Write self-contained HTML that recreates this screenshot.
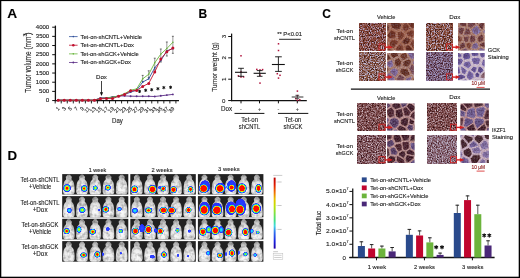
<!DOCTYPE html><html><head><meta charset="utf-8"><style>html,body{margin:0;padding:0;background:#fff;width:520px;height:278px;overflow:hidden}svg{display:block;font-family:"Liberation Sans",sans-serif;will-change:transform} text{stroke:#1c1c1c;stroke-width:0.12px}</style></head><body><svg xmlns="http://www.w3.org/2000/svg" width="520" height="278" viewBox="0 0 520 278" fill="#1c1c1c"><defs><filter id="cblur" x="0" y="0" width="1" height="1"><feGaussianBlur stdDeviation="0.55"/></filter><linearGradient id="cbar" x1="0" y1="0" x2="0" y2="1"><stop offset="0" stop-color="#b80000"/><stop offset="0.1" stop-color="#e01800"/><stop offset="0.2" stop-color="#f06800"/><stop offset="0.3" stop-color="#e8c000"/><stop offset="0.4" stop-color="#c0e000"/><stop offset="0.5" stop-color="#80e040"/><stop offset="0.6" stop-color="#40e080"/><stop offset="0.68" stop-color="#40d8e0"/><stop offset="0.77" stop-color="#3070f0"/><stop offset="0.9" stop-color="#1820e0"/><stop offset="1" stop-color="#2000a0"/></linearGradient><filter id="f10" x="0" y="0" width="1" height="1" color-interpolation-filters="sRGB"><feTurbulence type="fractalNoise" baseFrequency="0.85" numOctaves="2" seed="10"/><feColorMatrix type="matrix" values="2.2 0 0 0 -0.6 2.2 0 0 0 -0.6 2.2 0 0 0 -0.6 0 0 0 0 1"/><feComponentTransfer><feFuncR type="table" tableValues="0.23 0.33 0.42 0.5 0.55 0.59 0.63 0.67 0.74"/><feFuncG type="table" tableValues="0.09 0.14 0.19 0.24 0.31 0.39 0.49 0.6 0.68"/><feFuncB type="table" tableValues="0.07 0.1 0.14 0.19 0.27 0.38 0.56 0.69 0.78"/></feComponentTransfer><feGaussianBlur stdDeviation="0.42"/></filter><radialGradient id="cg0" cx="0.45" cy="0.45" r="0.6"><stop offset="0" stop-color="#622f22"/><stop offset="0.55" stop-color="#783a2a"/><stop offset="1" stop-color="#905d50"/></radialGradient><radialGradient id="cg1" cx="0.45" cy="0.45" r="0.6"><stop offset="0" stop-color="#552418"/><stop offset="0.55" stop-color="#682c1e"/><stop offset="1" stop-color="#835146"/></radialGradient><radialGradient id="cg2" cx="0.45" cy="0.45" r="0.6"><stop offset="0" stop-color="#481d13"/><stop offset="0.55" stop-color="#582418"/><stop offset="1" stop-color="#764b41"/></radialGradient><radialGradient id="cg3" cx="0.45" cy="0.45" r="0.6"><stop offset="0" stop-color="#715883"/><stop offset="0.55" stop-color="#8a6ca0"/><stop offset="1" stop-color="#9f86b1"/></radialGradient><filter id="f17" x="0" y="0" width="1" height="1" color-interpolation-filters="sRGB"><feTurbulence type="fractalNoise" baseFrequency="0.7" numOctaves="2" seed="17"/><feColorMatrix type="matrix" values="1.6 0 0 0 -0.3 1.6 0 0 0 -0.3 1.6 0 0 0 -0.3 0 0 0 0 1"/><feComponentTransfer><feFuncR type="table" tableValues="0.23 0.33 0.42 0.5 0.55 0.59 0.63 0.67 0.74"/><feFuncG type="table" tableValues="0.09 0.14 0.19 0.24 0.31 0.39 0.49 0.6 0.68"/><feFuncB type="table" tableValues="0.07 0.1 0.14 0.19 0.27 0.38 0.56 0.69 0.78"/></feComponentTransfer><feGaussianBlur stdDeviation="0.42"/></filter><filter id="f24" x="0" y="0" width="1" height="1" color-interpolation-filters="sRGB"><feTurbulence type="fractalNoise" baseFrequency="0.85" numOctaves="2" seed="24"/><feColorMatrix type="matrix" values="2.2 0 0 0 -0.6 2.2 0 0 0 -0.6 2.2 0 0 0 -0.6 0 0 0 0 1"/><feComponentTransfer><feFuncR type="table" tableValues="0.24 0.34 0.44 0.52 0.56 0.6 0.64 0.69 0.75"/><feFuncG type="table" tableValues="0.1 0.15 0.2 0.27 0.34 0.42 0.53 0.63 0.71"/><feFuncB type="table" tableValues="0.07 0.11 0.15 0.2 0.27 0.41 0.6 0.72 0.8"/></feComponentTransfer><feGaussianBlur stdDeviation="0.42"/></filter><radialGradient id="cg4" cx="0.45" cy="0.45" r="0.6"><stop offset="0" stop-color="#4d2227"/><stop offset="0.55" stop-color="#5e2a30"/><stop offset="1" stop-color="#7a5055"/></radialGradient><radialGradient id="cg5" cx="0.45" cy="0.45" r="0.6"><stop offset="0" stop-color="#645690"/><stop offset="0.55" stop-color="#7a6ab0"/><stop offset="1" stop-color="#9184be"/></radialGradient><radialGradient id="cg6" cx="0.45" cy="0.45" r="0.6"><stop offset="0" stop-color="#562c34"/><stop offset="0.55" stop-color="#6a3640"/><stop offset="1" stop-color="#845a62"/></radialGradient><radialGradient id="cg7" cx="0.45" cy="0.45" r="0.6"><stop offset="0" stop-color="#642d20"/><stop offset="0.55" stop-color="#7a3828"/><stop offset="1" stop-color="#915b4e"/></radialGradient><radialGradient id="cg8" cx="0.45" cy="0.45" r="0.6"><stop offset="0" stop-color="#5f3c55"/><stop offset="0.55" stop-color="#744a68"/><stop offset="1" stop-color="#8d6a83"/></radialGradient><filter id="f31" x="0" y="0" width="1" height="1" color-interpolation-filters="sRGB"><feTurbulence type="fractalNoise" baseFrequency="0.7" numOctaves="2" seed="31"/><feColorMatrix type="matrix" values="1.6 0 0 0 -0.3 1.6 0 0 0 -0.3 1.6 0 0 0 -0.3 0 0 0 0 1"/><feComponentTransfer><feFuncR type="table" tableValues="0.24 0.35 0.45 0.53 0.57 0.61 0.66 0.71 0.78"/><feFuncG type="table" tableValues="0.11 0.17 0.25 0.32 0.4 0.49 0.6 0.67 0.75"/><feFuncB type="table" tableValues="0.09 0.13 0.19 0.24 0.35 0.53 0.67 0.76 0.84"/></feComponentTransfer><feGaussianBlur stdDeviation="0.42"/></filter><filter id="f38" x="0" y="0" width="1" height="1" color-interpolation-filters="sRGB"><feTurbulence type="fractalNoise" baseFrequency="0.85" numOctaves="2" seed="38"/><feColorMatrix type="matrix" values="2.2 0 0 0 -0.6 2.2 0 0 0 -0.6 2.2 0 0 0 -0.6 0 0 0 0 1"/><feComponentTransfer><feFuncR type="table" tableValues="0.24 0.35 0.45 0.53 0.57 0.61 0.66 0.71 0.78"/><feFuncG type="table" tableValues="0.11 0.17 0.25 0.32 0.4 0.49 0.6 0.67 0.75"/><feFuncB type="table" tableValues="0.09 0.13 0.19 0.24 0.35 0.53 0.67 0.76 0.84"/></feComponentTransfer><feGaussianBlur stdDeviation="0.42"/></filter><radialGradient id="cg9" cx="0.45" cy="0.45" r="0.6"><stop offset="0" stop-color="#645590"/><stop offset="0.55" stop-color="#7a68b0"/><stop offset="1" stop-color="#9183be"/></radialGradient><radialGradient id="cg10" cx="0.45" cy="0.45" r="0.6"><stop offset="0" stop-color="#491d13"/><stop offset="0.55" stop-color="#5a2418"/><stop offset="1" stop-color="#774b41"/></radialGradient><radialGradient id="cg11" cx="0.45" cy="0.45" r="0.6"><stop offset="0" stop-color="#56251a"/><stop offset="0.55" stop-color="#6a2e20"/><stop offset="1" stop-color="#845348"/></radialGradient><radialGradient id="cg12" cx="0.45" cy="0.45" r="0.6"><stop offset="0" stop-color="#673224"/><stop offset="0.55" stop-color="#7e3e2c"/><stop offset="1" stop-color="#956051"/></radialGradient><radialGradient id="cg13" cx="0.45" cy="0.45" r="0.6"><stop offset="0" stop-color="#5f3949"/><stop offset="0.55" stop-color="#74465a"/><stop offset="1" stop-color="#8d6777"/></radialGradient><filter id="f45" x="0" y="0" width="1" height="1" color-interpolation-filters="sRGB"><feTurbulence type="fractalNoise" baseFrequency="0.7" numOctaves="2" seed="45"/><feColorMatrix type="matrix" values="1.6 0 0 0 -0.3 1.6 0 0 0 -0.3 1.6 0 0 0 -0.3 0 0 0 0 1"/><feComponentTransfer><feFuncR type="table" tableValues="0.24 0.35 0.45 0.53 0.57 0.61 0.66 0.71 0.78"/><feFuncG type="table" tableValues="0.11 0.17 0.25 0.32 0.4 0.49 0.6 0.67 0.75"/><feFuncB type="table" tableValues="0.09 0.13 0.19 0.24 0.35 0.53 0.67 0.76 0.84"/></feComponentTransfer><feGaussianBlur stdDeviation="0.42"/></filter><filter id="f52" x="0" y="0" width="1" height="1" color-interpolation-filters="sRGB"><feTurbulence type="fractalNoise" baseFrequency="0.85" numOctaves="2" seed="52"/><feColorMatrix type="matrix" values="2.2 0 0 0 -0.6 2.2 0 0 0 -0.6 2.2 0 0 0 -0.6 0 0 0 0 1"/><feComponentTransfer><feFuncR type="table" tableValues="0.23 0.31 0.38 0.44 0.48 0.52 0.56 0.62 0.7"/><feFuncG type="table" tableValues="0.1 0.16 0.23 0.31 0.38 0.44 0.5 0.57 0.65"/><feFuncB type="table" tableValues="0.16 0.22 0.3 0.38 0.48 0.58 0.66 0.72 0.79"/></feComponentTransfer><feGaussianBlur stdDeviation="0.42"/></filter><radialGradient id="cg14" cx="0.45" cy="0.45" r="0.6"><stop offset="0" stop-color="#4b3e7f"/><stop offset="0.55" stop-color="#5c4c9c"/><stop offset="1" stop-color="#796cad"/></radialGradient><radialGradient id="cg15" cx="0.45" cy="0.45" r="0.6"><stop offset="0" stop-color="#625593"/><stop offset="0.55" stop-color="#7868b4"/><stop offset="1" stop-color="#9083c1"/></radialGradient><radialGradient id="cg16" cx="0.45" cy="0.45" r="0.6"><stop offset="0" stop-color="#79565b"/><stop offset="0.55" stop-color="#946a70"/><stop offset="1" stop-color="#a78489"/></radialGradient><radialGradient id="cg17" cx="0.45" cy="0.45" r="0.6"><stop offset="0" stop-color="#564989"/><stop offset="0.55" stop-color="#6a5aa8"/><stop offset="1" stop-color="#8477b7"/></radialGradient><filter id="f59" x="0" y="0" width="1" height="1" color-interpolation-filters="sRGB"><feTurbulence type="fractalNoise" baseFrequency="0.7" numOctaves="2" seed="59"/><feColorMatrix type="matrix" values="1.6 0 0 0 -0.3 1.6 0 0 0 -0.3 1.6 0 0 0 -0.3 0 0 0 0 1"/><feComponentTransfer><feFuncR type="table" tableValues="0.23 0.31 0.38 0.44 0.48 0.52 0.56 0.62 0.7"/><feFuncG type="table" tableValues="0.1 0.16 0.23 0.31 0.38 0.44 0.5 0.57 0.65"/><feFuncB type="table" tableValues="0.16 0.22 0.3 0.38 0.48 0.58 0.66 0.72 0.79"/></feComponentTransfer><feGaussianBlur stdDeviation="0.42"/></filter><filter id="f66" x="0" y="0" width="1" height="1" color-interpolation-filters="sRGB"><feTurbulence type="fractalNoise" baseFrequency="0.8" numOctaves="2" seed="66"/><feColorMatrix type="matrix" values="1.7 0 0 0 -0.35 1.7 0 0 0 -0.35 1.7 0 0 0 -0.35 0 0 0 0 1"/><feComponentTransfer><feFuncR type="table" tableValues="0.16 0.25 0.35 0.43 0.5 0.58 0.66 0.74 0.83"/><feFuncG type="table" tableValues="0.05 0.1 0.16 0.23 0.31 0.42 0.53 0.64 0.75"/><feFuncB type="table" tableValues="0.06 0.11 0.16 0.24 0.31 0.44 0.56 0.67 0.78"/></feComponentTransfer><feGaussianBlur stdDeviation="0.42"/></filter><radialGradient id="cg18" cx="0.45" cy="0.45" r="0.6"><stop offset="0" stop-color="#2c0e12"/><stop offset="0.55" stop-color="#361216"/><stop offset="1" stop-color="#5a3c3f"/></radialGradient><radialGradient id="cg19" cx="0.45" cy="0.45" r="0.6"><stop offset="0" stop-color="#412d50"/><stop offset="0.55" stop-color="#503862"/><stop offset="1" stop-color="#6f5b7e"/></radialGradient><radialGradient id="cg20" cx="0.45" cy="0.45" r="0.6"><stop offset="0" stop-color="#4d3f6f"/><stop offset="0.55" stop-color="#5e4e88"/><stop offset="1" stop-color="#7a6d9d"/></radialGradient><radialGradient id="cg21" cx="0.45" cy="0.45" r="0.6"><stop offset="0" stop-color="#37151a"/><stop offset="0.55" stop-color="#441a20"/><stop offset="1" stop-color="#654348"/></radialGradient><filter id="f73" x="0" y="0" width="1" height="1" color-interpolation-filters="sRGB"><feTurbulence type="fractalNoise" baseFrequency="0.7" numOctaves="2" seed="73"/><feColorMatrix type="matrix" values="1.6 0 0 0 -0.3 1.6 0 0 0 -0.3 1.6 0 0 0 -0.3 0 0 0 0 1"/><feComponentTransfer><feFuncR type="table" tableValues="0.19 0.27 0.35 0.44 0.53 0.63 0.72 0.82 0.93"/><feFuncG type="table" tableValues="0.08 0.13 0.19 0.31 0.42 0.54 0.64 0.75 0.87"/><feFuncB type="table" tableValues="0.09 0.16 0.25 0.44 0.56 0.66 0.72 0.8 0.89"/></feComponentTransfer><feGaussianBlur stdDeviation="0.42"/></filter><filter id="f80" x="0" y="0" width="1" height="1" color-interpolation-filters="sRGB"><feTurbulence type="fractalNoise" baseFrequency="0.8" numOctaves="2" seed="80"/><feColorMatrix type="matrix" values="1.7 0 0 0 -0.35 1.7 0 0 0 -0.35 1.7 0 0 0 -0.35 0 0 0 0 1"/><feComponentTransfer><feFuncR type="table" tableValues="0.16 0.25 0.35 0.43 0.5 0.58 0.66 0.74 0.83"/><feFuncG type="table" tableValues="0.05 0.1 0.16 0.23 0.31 0.42 0.53 0.64 0.75"/><feFuncB type="table" tableValues="0.06 0.11 0.16 0.24 0.31 0.44 0.56 0.67 0.78"/></feComponentTransfer><feGaussianBlur stdDeviation="0.42"/></filter><radialGradient id="cg22" cx="0.45" cy="0.45" r="0.6"><stop offset="0" stop-color="#584b7c"/><stop offset="0.55" stop-color="#6c5c98"/><stop offset="1" stop-color="#8679aa"/></radialGradient><filter id="f87" x="0" y="0" width="1" height="1" color-interpolation-filters="sRGB"><feTurbulence type="fractalNoise" baseFrequency="0.7" numOctaves="2" seed="87"/><feColorMatrix type="matrix" values="1.6 0 0 0 -0.3 1.6 0 0 0 -0.3 1.6 0 0 0 -0.3 0 0 0 0 1"/><feComponentTransfer><feFuncR type="table" tableValues="0.19 0.27 0.35 0.44 0.53 0.63 0.72 0.82 0.93"/><feFuncG type="table" tableValues="0.08 0.13 0.19 0.31 0.42 0.54 0.64 0.75 0.87"/><feFuncB type="table" tableValues="0.09 0.16 0.25 0.44 0.56 0.66 0.72 0.8 0.89"/></feComponentTransfer><feGaussianBlur stdDeviation="0.42"/></filter><filter id="f94" x="0" y="0" width="1" height="1" color-interpolation-filters="sRGB"><feTurbulence type="fractalNoise" baseFrequency="0.8" numOctaves="2" seed="94"/><feColorMatrix type="matrix" values="1.7 0 0 0 -0.35 1.7 0 0 0 -0.35 1.7 0 0 0 -0.35 0 0 0 0 1"/><feComponentTransfer><feFuncR type="table" tableValues="0.17 0.26 0.35 0.44 0.51 0.59 0.67 0.75 0.84"/><feFuncG type="table" tableValues="0.06 0.11 0.17 0.25 0.35 0.45 0.56 0.66 0.78"/><feFuncB type="table" tableValues="0.08 0.13 0.2 0.27 0.37 0.49 0.6 0.71 0.82"/></feComponentTransfer><feGaussianBlur stdDeviation="0.42"/></filter><filter id="f101" x="0" y="0" width="1" height="1" color-interpolation-filters="sRGB"><feTurbulence type="fractalNoise" baseFrequency="0.7" numOctaves="2" seed="101"/><feColorMatrix type="matrix" values="1.6 0 0 0 -0.3 1.6 0 0 0 -0.3 1.6 0 0 0 -0.3 0 0 0 0 1"/><feComponentTransfer><feFuncR type="table" tableValues="0.19 0.27 0.35 0.44 0.53 0.63 0.72 0.82 0.93"/><feFuncG type="table" tableValues="0.08 0.13 0.19 0.31 0.42 0.54 0.64 0.75 0.87"/><feFuncB type="table" tableValues="0.09 0.16 0.25 0.44 0.56 0.66 0.72 0.8 0.89"/></feComponentTransfer><feGaussianBlur stdDeviation="0.42"/></filter><filter id="f108" x="0" y="0" width="1" height="1" color-interpolation-filters="sRGB"><feTurbulence type="fractalNoise" baseFrequency="0.8" numOctaves="2" seed="108"/><feColorMatrix type="matrix" values="1.7 0 0 0 -0.35 1.7 0 0 0 -0.35 1.7 0 0 0 -0.35 0 0 0 0 1"/><feComponentTransfer><feFuncR type="table" tableValues="0.23 0.31 0.41 0.49 0.55 0.61 0.67 0.74 0.82"/><feFuncG type="table" tableValues="0.1 0.16 0.25 0.34 0.42 0.52 0.61 0.69 0.78"/><feFuncB type="table" tableValues="0.13 0.2 0.28 0.38 0.49 0.59 0.68 0.76 0.85"/></feComponentTransfer><feGaussianBlur stdDeviation="0.42"/></filter><radialGradient id="cg23" cx="0.45" cy="0.45" r="0.6"><stop offset="0" stop-color="#96839a"/><stop offset="0.55" stop-color="#b8a0bc"/><stop offset="1" stop-color="#c4b1c8"/></radialGradient><radialGradient id="cg24" cx="0.45" cy="0.45" r="0.6"><stop offset="0" stop-color="#6d6090"/><stop offset="0.55" stop-color="#8676b0"/><stop offset="1" stop-color="#9b8ebe"/></radialGradient><radialGradient id="cg25" cx="0.45" cy="0.45" r="0.6"><stop offset="0" stop-color="#5b4e83"/><stop offset="0.55" stop-color="#7060a0"/><stop offset="1" stop-color="#897cb1"/></radialGradient><radialGradient id="cg26" cx="0.45" cy="0.45" r="0.6"><stop offset="0" stop-color="#2c1013"/><stop offset="0.55" stop-color="#361418"/><stop offset="1" stop-color="#5a3e41"/></radialGradient><filter id="f115" x="0" y="0" width="1" height="1" color-interpolation-filters="sRGB"><feTurbulence type="fractalNoise" baseFrequency="0.7" numOctaves="2" seed="115"/><feColorMatrix type="matrix" values="1.6 0 0 0 -0.3 1.6 0 0 0 -0.3 1.6 0 0 0 -0.3 0 0 0 0 1"/><feComponentTransfer><feFuncR type="table" tableValues="0.19 0.27 0.35 0.44 0.53 0.63 0.72 0.82 0.93"/><feFuncG type="table" tableValues="0.08 0.13 0.19 0.31 0.42 0.54 0.64 0.75 0.87"/><feFuncB type="table" tableValues="0.09 0.16 0.25 0.44 0.56 0.66 0.72 0.8 0.89"/></feComponentTransfer><feGaussianBlur stdDeviation="0.42"/></filter><radialGradient id="mg" cx="0.5" cy="0.74" r="0.72"><stop offset="0" stop-color="#fcfcfc"/><stop offset="0.45" stop-color="#ececec"/><stop offset="0.75" stop-color="#cfcfcf"/><stop offset="1" stop-color="#9a9a9a"/></radialGradient><filter id="mb" x="-0.05" y="-0.05" width="1.1" height="1.1" color-interpolation-filters="sRGB"><feTurbulence type="fractalNoise" baseFrequency="0.28" numOctaves="2" seed="11" result="n"/><feColorMatrix in="n" type="matrix" values="0.7 0 0 0 0.58 0.7 0 0 0 0.58 0.7 0 0 0 0.58 0 0 0 0 1" result="g"/><feComposite in="SourceGraphic" in2="g" operator="arithmetic" k1="1" k2="0" k3="0" k4="0" result="m"/><feGaussianBlur in="m" stdDeviation="0.4"/></filter><filter id="bb" x="-0.3" y="-0.3" width="1.6" height="1.6"><feGaussianBlur stdDeviation="0.3"/></filter><path id="mouse" d="M0,0.2 C1.2,0.2 1.8,0.9 2.0,1.8 C2.6,2.0 3.0,2.6 2.8,3.4 C2.6,4.2 2.4,4.8 2.6,5.4 C3.5,6.2 4.4,7.2 4.8,9.0 C5.3,11.5 5.5,14.5 5.5,17.0 C5.4,19.0 4.8,20.2 3.4,20.4 L-3.4,20.4 C-4.8,20.2 -5.4,19.0 -5.5,17.0 C-5.5,14.5 -5.3,11.5 -4.8,9.0 C-4.4,7.2 -3.5,6.2 -2.6,5.4 C-2.4,4.8 -2.6,4.2 -2.8,3.4 C-3.0,2.6 -2.6,2.0 -2.0,1.8 C-1.8,0.9 -1.2,0.2 0,0.2 Z" fill="url(#mg)"/><radialGradient id="bl330"><stop offset="0" stop-color="#ff1000"/><stop offset="0.28" stop-color="#ff1000"/><stop offset="0.35" stop-color="#ff9000"/><stop offset="0.45" stop-color="#f8f400"/><stop offset="0.58" stop-color="#50f040"/><stop offset="0.69" stop-color="#10e0f8"/><stop offset="0.78" stop-color="#2438ff"/><stop offset="0.94" stop-color="#2438ff"/><stop offset="1" stop-color="#2438ff" stop-opacity="0"/></radialGradient><radialGradient id="bl325"><stop offset="0" stop-color="#ff1000"/><stop offset="0.23" stop-color="#ff1000"/><stop offset="0.31" stop-color="#ff9000"/><stop offset="0.41" stop-color="#f8f400"/><stop offset="0.55" stop-color="#50f040"/><stop offset="0.67" stop-color="#10e0f8"/><stop offset="0.77" stop-color="#2438ff"/><stop offset="0.94" stop-color="#2438ff"/><stop offset="1" stop-color="#2438ff" stop-opacity="0"/></radialGradient><radialGradient id="bl50"><stop offset="0" stop-color="#ff5000"/><stop offset="0.14" stop-color="#f8f400"/><stop offset="0.4" stop-color="#50f040"/><stop offset="0.62" stop-color="#10e0f8"/><stop offset="0.78" stop-color="#2438ff"/><stop offset="0.94" stop-color="#2438ff"/><stop offset="1" stop-color="#2438ff" stop-opacity="0"/></radialGradient><radialGradient id="bl320"><stop offset="0" stop-color="#ff1000"/><stop offset="0.19" stop-color="#ff1000"/><stop offset="0.26" stop-color="#ff9000"/><stop offset="0.38" stop-color="#f8f400"/><stop offset="0.53" stop-color="#50f040"/><stop offset="0.65" stop-color="#10e0f8"/><stop offset="0.76" stop-color="#2438ff"/><stop offset="0.94" stop-color="#2438ff"/><stop offset="1" stop-color="#2438ff" stop-opacity="0"/></radialGradient><radialGradient id="bl345"><stop offset="0" stop-color="#ff1000"/><stop offset="0.42" stop-color="#ff1000"/><stop offset="0.47" stop-color="#ff9000"/><stop offset="0.55" stop-color="#f8f400"/><stop offset="0.66" stop-color="#50f040"/><stop offset="0.74" stop-color="#10e0f8"/><stop offset="0.82" stop-color="#2438ff"/><stop offset="0.94" stop-color="#2438ff"/><stop offset="1" stop-color="#2438ff" stop-opacity="0"/></radialGradient><radialGradient id="bl360"><stop offset="0" stop-color="#ff1000"/><stop offset="0.56" stop-color="#ff1000"/><stop offset="0.6" stop-color="#ff9000"/><stop offset="0.66" stop-color="#f8f400"/><stop offset="0.73" stop-color="#50f040"/><stop offset="0.8" stop-color="#10e0f8"/><stop offset="0.85" stop-color="#2438ff"/><stop offset="0.94" stop-color="#2438ff"/><stop offset="1" stop-color="#2438ff" stop-opacity="0"/></radialGradient><radialGradient id="bl200"><stop offset="0" stop-color="#3050ff"/><stop offset="0.6" stop-color="#2438ff"/><stop offset="0.94" stop-color="#2830f8"/><stop offset="1" stop-color="#2438ff" stop-opacity="0"/></radialGradient><radialGradient id="bl355"><stop offset="0" stop-color="#ff1000"/><stop offset="0.52" stop-color="#ff1000"/><stop offset="0.56" stop-color="#ff9000"/><stop offset="0.62" stop-color="#f8f400"/><stop offset="0.71" stop-color="#50f040"/><stop offset="0.78" stop-color="#10e0f8"/><stop offset="0.84" stop-color="#2438ff"/><stop offset="0.94" stop-color="#2438ff"/><stop offset="1" stop-color="#2438ff" stop-opacity="0"/></radialGradient><radialGradient id="bl340"><stop offset="0" stop-color="#ff1000"/><stop offset="0.38" stop-color="#ff1000"/><stop offset="0.43" stop-color="#ff9000"/><stop offset="0.52" stop-color="#f8f400"/><stop offset="0.63" stop-color="#50f040"/><stop offset="0.73" stop-color="#10e0f8"/><stop offset="0.8" stop-color="#2438ff"/><stop offset="0.94" stop-color="#2438ff"/><stop offset="1" stop-color="#2438ff" stop-opacity="0"/></radialGradient><radialGradient id="bl366"><stop offset="0" stop-color="#ff1000"/><stop offset="0.62" stop-color="#ff1000"/><stop offset="0.65" stop-color="#ff9000"/><stop offset="0.7" stop-color="#f8f400"/><stop offset="0.76" stop-color="#50f040"/><stop offset="0.82" stop-color="#10e0f8"/><stop offset="0.86" stop-color="#2438ff"/><stop offset="0.94" stop-color="#2438ff"/><stop offset="1" stop-color="#2438ff" stop-opacity="0"/></radialGradient><radialGradient id="bl364"><stop offset="0" stop-color="#ff1000"/><stop offset="0.6" stop-color="#ff1000"/><stop offset="0.64" stop-color="#ff9000"/><stop offset="0.69" stop-color="#f8f400"/><stop offset="0.75" stop-color="#50f040"/><stop offset="0.81" stop-color="#10e0f8"/><stop offset="0.86" stop-color="#2438ff"/><stop offset="0.94" stop-color="#2438ff"/><stop offset="1" stop-color="#2438ff" stop-opacity="0"/></radialGradient><radialGradient id="bl150"><stop offset="0" stop-color="#40f0c0"/><stop offset="0.28" stop-color="#10e0f8"/><stop offset="0.55" stop-color="#2090ff"/><stop offset="0.75" stop-color="#2438ff"/><stop offset="0.94" stop-color="#2438ff"/><stop offset="1" stop-color="#2438ff" stop-opacity="0"/></radialGradient><radialGradient id="bl350"><stop offset="0" stop-color="#ff1000"/><stop offset="0.47" stop-color="#ff1000"/><stop offset="0.52" stop-color="#ff9000"/><stop offset="0.59" stop-color="#f8f400"/><stop offset="0.68" stop-color="#50f040"/><stop offset="0.76" stop-color="#10e0f8"/><stop offset="0.83" stop-color="#2438ff"/><stop offset="0.94" stop-color="#2438ff"/><stop offset="1" stop-color="#2438ff" stop-opacity="0"/></radialGradient><radialGradient id="bl335"><stop offset="0" stop-color="#ff1000"/><stop offset="0.33" stop-color="#ff1000"/><stop offset="0.39" stop-color="#ff9000"/><stop offset="0.48" stop-color="#f8f400"/><stop offset="0.6" stop-color="#50f040"/><stop offset="0.71" stop-color="#10e0f8"/><stop offset="0.79" stop-color="#2438ff"/><stop offset="0.94" stop-color="#2438ff"/><stop offset="1" stop-color="#2438ff" stop-opacity="0"/></radialGradient><radialGradient id="bl368"><stop offset="0" stop-color="#ff1000"/><stop offset="0.64" stop-color="#ff1000"/><stop offset="0.67" stop-color="#ff9000"/><stop offset="0.71" stop-color="#f8f400"/><stop offset="0.77" stop-color="#50f040"/><stop offset="0.83" stop-color="#10e0f8"/><stop offset="0.87" stop-color="#2438ff"/><stop offset="0.94" stop-color="#2438ff"/><stop offset="1" stop-color="#2438ff" stop-opacity="0"/></radialGradient><radialGradient id="bl362"><stop offset="0" stop-color="#ff1000"/><stop offset="0.58" stop-color="#ff1000"/><stop offset="0.62" stop-color="#ff9000"/><stop offset="0.67" stop-color="#f8f400"/><stop offset="0.74" stop-color="#50f040"/><stop offset="0.8" stop-color="#10e0f8"/><stop offset="0.85" stop-color="#2438ff"/><stop offset="0.94" stop-color="#2438ff"/><stop offset="1" stop-color="#2438ff" stop-opacity="0"/></radialGradient><radialGradient id="bl100"><stop offset="0" stop-color="#f8f400"/><stop offset="0.3" stop-color="#50f040"/><stop offset="0.55" stop-color="#10e0f8"/><stop offset="0.75" stop-color="#2438ff"/><stop offset="0.94" stop-color="#2438ff"/><stop offset="1" stop-color="#2438ff" stop-opacity="0"/></radialGradient></defs>
<text x="7.3" y="17.7" font-size="12" font-weight="bold" fill="#000" stroke="#000" textLength="9.9" lengthAdjust="spacingAndGlyphs">A</text>
<text x="198.4" y="18" font-size="12" font-weight="bold" fill="#000" stroke="#000">B</text>
<text x="322.3" y="18" font-size="12" font-weight="bold" fill="#000" stroke="#000">C</text>
<text x="7.6" y="159.9" font-size="12" font-weight="bold" fill="#000" stroke="#000" textLength="9.6" lengthAdjust="spacingAndGlyphs">D</text>
<line x1="55.4" y1="25.6" x2="55.4" y2="101.15" stroke="#111" stroke-width="1.3"/>
<line x1="54.8" y1="100.55" x2="179" y2="100.55" stroke="#111" stroke-width="1.3"/>
<line x1="52.2" y1="100.55" x2="55.4" y2="100.55" stroke="#111" stroke-width="1"/>
<text x="49.2" y="102.3" font-size="5.09" text-anchor="end" textLength="3.5" lengthAdjust="spacingAndGlyphs">0</text>
<line x1="52.2" y1="91.38" x2="55.4" y2="91.38" stroke="#111" stroke-width="1"/>
<text x="49.2" y="93.13" font-size="5.09" text-anchor="end" textLength="10.1" lengthAdjust="spacingAndGlyphs">500</text>
<line x1="52.2" y1="82.21" x2="55.4" y2="82.21" stroke="#111" stroke-width="1"/>
<text x="49.2" y="83.96" font-size="5.09" text-anchor="end" textLength="13.4" lengthAdjust="spacingAndGlyphs">1000</text>
<line x1="52.2" y1="73.04" x2="55.4" y2="73.04" stroke="#111" stroke-width="1"/>
<text x="49.2" y="74.79" font-size="5.09" text-anchor="end" textLength="13.4" lengthAdjust="spacingAndGlyphs">1500</text>
<line x1="52.2" y1="63.87" x2="55.4" y2="63.87" stroke="#111" stroke-width="1"/>
<text x="49.2" y="65.62" font-size="5.09" text-anchor="end" textLength="13.4" lengthAdjust="spacingAndGlyphs">2000</text>
<line x1="52.2" y1="54.7" x2="55.4" y2="54.7" stroke="#111" stroke-width="1"/>
<text x="49.2" y="56.45" font-size="5.09" text-anchor="end" textLength="13.4" lengthAdjust="spacingAndGlyphs">2500</text>
<line x1="52.2" y1="45.53" x2="55.4" y2="45.53" stroke="#111" stroke-width="1"/>
<text x="49.2" y="47.28" font-size="5.09" text-anchor="end" textLength="13.4" lengthAdjust="spacingAndGlyphs">3000</text>
<line x1="52.2" y1="36.36" x2="55.4" y2="36.36" stroke="#111" stroke-width="1"/>
<text x="49.2" y="38.11" font-size="5.09" text-anchor="end" textLength="13.4" lengthAdjust="spacingAndGlyphs">3500</text>
<line x1="52.2" y1="27.19" x2="55.4" y2="27.19" stroke="#111" stroke-width="1"/>
<text x="49.2" y="28.94" font-size="5.09" text-anchor="end" textLength="13.4" lengthAdjust="spacingAndGlyphs">4000</text>
<line x1="55.2" y1="100.55" x2="55.2" y2="103.45" stroke="#111" stroke-width="0.9"/>
<line x1="61.23" y1="100.55" x2="61.23" y2="103.45" stroke="#111" stroke-width="0.9"/>
<line x1="67.27" y1="100.55" x2="67.27" y2="103.45" stroke="#111" stroke-width="0.9"/>
<line x1="73.31" y1="100.55" x2="73.31" y2="103.45" stroke="#111" stroke-width="0.9"/>
<line x1="79.34" y1="100.55" x2="79.34" y2="103.45" stroke="#111" stroke-width="0.9"/>
<line x1="85.38" y1="100.55" x2="85.38" y2="103.45" stroke="#111" stroke-width="0.9"/>
<line x1="91.41" y1="100.55" x2="91.41" y2="103.45" stroke="#111" stroke-width="0.9"/>
<line x1="97.45" y1="100.55" x2="97.45" y2="103.45" stroke="#111" stroke-width="0.9"/>
<line x1="103.48" y1="100.55" x2="103.48" y2="103.45" stroke="#111" stroke-width="0.9"/>
<line x1="109.52" y1="100.55" x2="109.52" y2="103.45" stroke="#111" stroke-width="0.9"/>
<line x1="115.55" y1="100.55" x2="115.55" y2="103.45" stroke="#111" stroke-width="0.9"/>
<line x1="121.59" y1="100.55" x2="121.59" y2="103.45" stroke="#111" stroke-width="0.9"/>
<line x1="127.62" y1="100.55" x2="127.62" y2="103.45" stroke="#111" stroke-width="0.9"/>
<line x1="133.66" y1="100.55" x2="133.66" y2="103.45" stroke="#111" stroke-width="0.9"/>
<line x1="139.69" y1="100.55" x2="139.69" y2="103.45" stroke="#111" stroke-width="0.9"/>
<line x1="145.73" y1="100.55" x2="145.73" y2="103.45" stroke="#111" stroke-width="0.9"/>
<line x1="151.76" y1="100.55" x2="151.76" y2="103.45" stroke="#111" stroke-width="0.9"/>
<line x1="157.8" y1="100.55" x2="157.8" y2="103.45" stroke="#111" stroke-width="0.9"/>
<line x1="163.83" y1="100.55" x2="163.83" y2="103.45" stroke="#111" stroke-width="0.9"/>
<line x1="169.87" y1="100.55" x2="169.87" y2="103.45" stroke="#111" stroke-width="0.9"/>
<line x1="175.9" y1="100.55" x2="175.9" y2="103.45" stroke="#111" stroke-width="0.9"/>
<text transform="translate(60.2 109) rotate(-45)" font-size="5.3" text-anchor="end" stroke-width="0.3">1</text>
<text transform="translate(66.23 109) rotate(-45)" font-size="5.3" text-anchor="end" stroke-width="0.3">3</text>
<text transform="translate(72.27 109) rotate(-45)" font-size="5.3" text-anchor="end" stroke-width="0.3">5</text>
<text transform="translate(78.31 109) rotate(-45)" font-size="5.3" text-anchor="end" stroke-width="0.3">7</text>
<text transform="translate(84.34 109) rotate(-45)" font-size="5.3" text-anchor="end" stroke-width="0.3">9</text>
<text transform="translate(90.38 109) rotate(-45)" font-size="5.3" text-anchor="end" stroke-width="0.3">11</text>
<text transform="translate(96.41 109) rotate(-45)" font-size="5.3" text-anchor="end" stroke-width="0.3">13</text>
<text transform="translate(102.45 109) rotate(-45)" font-size="5.3" text-anchor="end" stroke-width="0.3">15</text>
<text transform="translate(108.48 109) rotate(-45)" font-size="5.3" text-anchor="end" stroke-width="0.3">17</text>
<text transform="translate(114.52 109) rotate(-45)" font-size="5.3" text-anchor="end" stroke-width="0.3">19</text>
<text transform="translate(120.55 109) rotate(-45)" font-size="5.3" text-anchor="end" stroke-width="0.3">21</text>
<text transform="translate(126.59 109) rotate(-45)" font-size="5.3" text-anchor="end" stroke-width="0.3">23</text>
<text transform="translate(132.62 109) rotate(-45)" font-size="5.3" text-anchor="end" stroke-width="0.3">25</text>
<text transform="translate(138.66 109) rotate(-45)" font-size="5.3" text-anchor="end" stroke-width="0.3">27</text>
<text transform="translate(144.69 109) rotate(-45)" font-size="5.3" text-anchor="end" stroke-width="0.3">29</text>
<text transform="translate(150.73 109) rotate(-45)" font-size="5.3" text-anchor="end" stroke-width="0.3">31</text>
<text transform="translate(156.76 109) rotate(-45)" font-size="5.3" text-anchor="end" stroke-width="0.3">33</text>
<text transform="translate(162.8 109) rotate(-45)" font-size="5.3" text-anchor="end" stroke-width="0.3">35</text>
<text transform="translate(168.83 109) rotate(-45)" font-size="5.3" text-anchor="end" stroke-width="0.3">37</text>
<text transform="translate(174.87 109) rotate(-45)" font-size="5.3" text-anchor="end" stroke-width="0.3">39</text>
<text transform="translate(30.8 92.8) rotate(-90)" font-size="9.12" textLength="56.2" lengthAdjust="spacingAndGlyphs">Tumor volume (mm</text>
<text transform="translate(27 36.6) rotate(-90)" font-size="5.51">3</text>
<text transform="translate(30.8 35) rotate(-90)" font-size="9.12" textLength="2.6" lengthAdjust="spacingAndGlyphs">)</text>
<text x="112" y="122.6" font-size="7.21" textLength="10.8" lengthAdjust="spacingAndGlyphs">Day</text>
<line x1="142.69" y1="75.4" x2="142.69" y2="81.5" stroke="#555" stroke-width="0.6"/>
<line x1="141.74" y1="75.4" x2="143.64" y2="75.4" stroke="#333" stroke-width="0.7"/>
<line x1="141.74" y1="81.5" x2="143.64" y2="81.5" stroke="#333" stroke-width="0.7"/>
<line x1="148.73" y1="70.8" x2="148.73" y2="77.5" stroke="#555" stroke-width="0.6"/>
<line x1="147.78" y1="70.8" x2="149.68" y2="70.8" stroke="#333" stroke-width="0.7"/>
<line x1="147.78" y1="77.5" x2="149.68" y2="77.5" stroke="#333" stroke-width="0.7"/>
<line x1="154.76" y1="58.2" x2="154.76" y2="70" stroke="#555" stroke-width="0.6"/>
<line x1="153.81" y1="58.2" x2="155.71" y2="58.2" stroke="#333" stroke-width="0.7"/>
<line x1="153.81" y1="70" x2="155.71" y2="70" stroke="#333" stroke-width="0.7"/>
<line x1="160.8" y1="49" x2="160.8" y2="62" stroke="#555" stroke-width="0.6"/>
<line x1="159.85" y1="49" x2="161.75" y2="49" stroke="#333" stroke-width="0.7"/>
<line x1="159.85" y1="62" x2="161.75" y2="62" stroke="#333" stroke-width="0.7"/>
<line x1="166.83" y1="42" x2="166.83" y2="56" stroke="#555" stroke-width="0.6"/>
<line x1="165.88" y1="42" x2="167.78" y2="42" stroke="#333" stroke-width="0.7"/>
<line x1="165.88" y1="56" x2="167.78" y2="56" stroke="#333" stroke-width="0.7"/>
<line x1="172.87" y1="36.3" x2="172.87" y2="53.3" stroke="#555" stroke-width="0.6"/>
<line x1="171.92" y1="36.3" x2="173.81" y2="36.3" stroke="#333" stroke-width="0.7"/>
<line x1="171.92" y1="53.3" x2="173.81" y2="53.3" stroke="#333" stroke-width="0.7"/>
<polyline points="58.2,100.2 64.23,100.2 70.27,100.2 76.31,100.2 82.34,100.2 88.38,100.2 94.41,100.2 100.45,97.9 106.48,97.9 112.52,97 118.55,96 124.59,95.9 130.62,96.2 136.66,96.3 142.69,96.3 148.73,96.3 154.76,96.5 160.8,95.8 166.83,95.1 172.87,94.4" fill="none" stroke="#5a2d86" stroke-width="0.9"/>
<circle cx="58.2" cy="100.2" r="0.95" fill="#5a2d86"/>
<circle cx="64.23" cy="100.2" r="0.95" fill="#5a2d86"/>
<circle cx="70.27" cy="100.2" r="0.95" fill="#5a2d86"/>
<circle cx="76.31" cy="100.2" r="0.95" fill="#5a2d86"/>
<circle cx="82.34" cy="100.2" r="0.95" fill="#5a2d86"/>
<circle cx="88.38" cy="100.2" r="0.95" fill="#5a2d86"/>
<circle cx="94.41" cy="100.2" r="0.95" fill="#5a2d86"/>
<circle cx="100.45" cy="97.9" r="0.95" fill="#5a2d86"/>
<circle cx="106.48" cy="97.9" r="0.95" fill="#5a2d86"/>
<circle cx="112.52" cy="97" r="0.95" fill="#5a2d86"/>
<circle cx="118.55" cy="96" r="0.95" fill="#5a2d86"/>
<circle cx="124.59" cy="95.9" r="0.95" fill="#5a2d86"/>
<circle cx="130.62" cy="96.2" r="0.95" fill="#5a2d86"/>
<circle cx="136.66" cy="96.3" r="0.95" fill="#5a2d86"/>
<circle cx="142.69" cy="96.3" r="0.95" fill="#5a2d86"/>
<circle cx="148.73" cy="96.3" r="0.95" fill="#5a2d86"/>
<circle cx="154.76" cy="96.5" r="0.95" fill="#5a2d86"/>
<circle cx="160.8" cy="95.8" r="0.95" fill="#5a2d86"/>
<circle cx="166.83" cy="95.1" r="0.95" fill="#5a2d86"/>
<circle cx="172.87" cy="94.4" r="0.95" fill="#5a2d86"/>
<polyline points="58.2,100.2 64.23,100.2 70.27,100.2 76.31,100.2 82.34,100.2 88.38,100.2 94.41,100.2 100.45,98.3 106.48,98 112.52,97.2 118.55,96.3 124.59,94.4 130.62,92.2 136.66,90.2 142.69,82.1 148.73,78.8 154.76,67.8 160.8,60.6 166.83,50.9 172.87,48.5" fill="none" stroke="#2e4f9a" stroke-width="0.9"/>
<circle cx="58.2" cy="100.2" r="0.9" fill="#2e4f9a"/>
<circle cx="64.23" cy="100.2" r="0.9" fill="#2e4f9a"/>
<circle cx="70.27" cy="100.2" r="0.9" fill="#2e4f9a"/>
<circle cx="76.31" cy="100.2" r="0.9" fill="#2e4f9a"/>
<circle cx="82.34" cy="100.2" r="0.9" fill="#2e4f9a"/>
<circle cx="88.38" cy="100.2" r="0.9" fill="#2e4f9a"/>
<circle cx="94.41" cy="100.2" r="0.9" fill="#2e4f9a"/>
<circle cx="100.45" cy="98.3" r="0.9" fill="#2e4f9a"/>
<circle cx="106.48" cy="98" r="0.9" fill="#2e4f9a"/>
<circle cx="112.52" cy="97.2" r="0.9" fill="#2e4f9a"/>
<circle cx="118.55" cy="96.3" r="0.9" fill="#2e4f9a"/>
<circle cx="124.59" cy="94.4" r="0.9" fill="#2e4f9a"/>
<circle cx="130.62" cy="92.2" r="0.9" fill="#2e4f9a"/>
<circle cx="136.66" cy="90.2" r="0.9" fill="#2e4f9a"/>
<circle cx="142.69" cy="82.1" r="0.9" fill="#2e4f9a"/>
<circle cx="148.73" cy="78.8" r="0.9" fill="#2e4f9a"/>
<circle cx="154.76" cy="67.8" r="0.9" fill="#2e4f9a"/>
<circle cx="160.8" cy="60.6" r="0.9" fill="#2e4f9a"/>
<circle cx="166.83" cy="50.9" r="0.9" fill="#2e4f9a"/>
<circle cx="172.87" cy="48.5" r="0.9" fill="#2e4f9a"/>
<polyline points="58.2,100.2 64.23,100.2 70.27,100.2 76.31,100.2 82.34,100.2 88.38,100.2 94.41,100.2 100.45,98.5 106.48,98 112.52,97.2 118.55,96 124.59,93.6 130.62,90.2 136.66,88.9 142.69,78.8 148.73,74.3 154.76,62.8 160.8,54.1 166.83,48.5 172.87,42.3" fill="none" stroke="#6ab53e" stroke-width="0.9"/>
<circle cx="58.2" cy="100.2" r="0.8" fill="#6ab53e"/>
<circle cx="64.23" cy="100.2" r="0.8" fill="#6ab53e"/>
<circle cx="70.27" cy="100.2" r="0.8" fill="#6ab53e"/>
<circle cx="76.31" cy="100.2" r="0.8" fill="#6ab53e"/>
<circle cx="82.34" cy="100.2" r="0.8" fill="#6ab53e"/>
<circle cx="88.38" cy="100.2" r="0.8" fill="#6ab53e"/>
<circle cx="94.41" cy="100.2" r="0.8" fill="#6ab53e"/>
<circle cx="100.45" cy="98.5" r="0.8" fill="#6ab53e"/>
<circle cx="106.48" cy="98" r="0.8" fill="#6ab53e"/>
<circle cx="112.52" cy="97.2" r="0.8" fill="#6ab53e"/>
<circle cx="118.55" cy="96" r="0.8" fill="#6ab53e"/>
<circle cx="124.59" cy="93.6" r="0.8" fill="#6ab53e"/>
<circle cx="130.62" cy="90.2" r="0.8" fill="#6ab53e"/>
<circle cx="136.66" cy="88.9" r="0.8" fill="#6ab53e"/>
<circle cx="142.69" cy="78.8" r="0.8" fill="#6ab53e"/>
<circle cx="148.73" cy="74.3" r="0.8" fill="#6ab53e"/>
<circle cx="154.76" cy="62.8" r="0.8" fill="#6ab53e"/>
<circle cx="160.8" cy="54.1" r="0.8" fill="#6ab53e"/>
<circle cx="166.83" cy="48.5" r="0.8" fill="#6ab53e"/>
<circle cx="172.87" cy="42.3" r="0.8" fill="#6ab53e"/>
<polyline points="58.2,100.2 64.23,100.2 70.27,100.2 76.31,100.2 82.34,100.2 88.38,100.2 94.41,100.2 100.45,98.8 106.48,98.5 112.52,98.6 118.55,96.3 124.59,94.5 130.62,90.8 136.66,90.5 142.69,86.4 148.73,83.4 154.76,71.9 160.8,59 166.83,51.7 172.87,48.1" fill="none" stroke="#c0102e" stroke-width="0.9"/>
<circle cx="58.2" cy="100.2" r="1.5" fill="#c0102e"/>
<circle cx="64.23" cy="100.2" r="1.5" fill="#c0102e"/>
<circle cx="70.27" cy="100.2" r="1.5" fill="#c0102e"/>
<circle cx="76.31" cy="100.2" r="1.5" fill="#c0102e"/>
<circle cx="82.34" cy="100.2" r="1.5" fill="#c0102e"/>
<circle cx="88.38" cy="100.2" r="1.5" fill="#c0102e"/>
<circle cx="94.41" cy="100.2" r="1.5" fill="#c0102e"/>
<circle cx="100.45" cy="98.8" r="1.5" fill="#c0102e"/>
<circle cx="106.48" cy="98.5" r="1.5" fill="#c0102e"/>
<circle cx="112.52" cy="98.6" r="1.5" fill="#c0102e"/>
<circle cx="118.55" cy="96.3" r="1.5" fill="#c0102e"/>
<circle cx="124.59" cy="94.5" r="1.5" fill="#c0102e"/>
<circle cx="130.62" cy="90.8" r="1.5" fill="#c0102e"/>
<circle cx="136.66" cy="90.5" r="1.5" fill="#c0102e"/>
<circle cx="142.69" cy="86.4" r="1.5" fill="#c0102e"/>
<circle cx="148.73" cy="83.4" r="1.5" fill="#c0102e"/>
<circle cx="154.76" cy="71.9" r="1.5" fill="#c0102e"/>
<circle cx="160.8" cy="59" r="1.5" fill="#c0102e"/>
<circle cx="166.83" cy="51.7" r="1.5" fill="#c0102e"/>
<circle cx="172.87" cy="48.1" r="1.5" fill="#c0102e"/>
<path d="M139.6,90.15L139.6,92.65M138.52,90.78L140.68,92.03M140.68,90.78L138.52,92.03" stroke="#111" stroke-width="1" stroke-linecap="round"/>
<path d="M145.7,89.05L145.7,91.55M144.62,89.67L146.78,90.92M146.78,89.67L144.62,90.92" stroke="#111" stroke-width="1" stroke-linecap="round"/>
<path d="M151.7,88.45L151.7,90.95M150.62,89.08L152.78,90.33M152.78,89.08L150.62,90.33" stroke="#111" stroke-width="1" stroke-linecap="round"/>
<path d="M157.9,87.45L157.9,89.95M156.82,88.08L158.98,89.33M158.98,88.08L156.82,89.33" stroke="#111" stroke-width="1" stroke-linecap="round"/>
<path d="M163.8,86.35L163.8,88.85M162.72,86.97L164.88,88.22M164.88,86.97L162.72,88.22" stroke="#111" stroke-width="1" stroke-linecap="round"/>
<path d="M170.6,86.05L170.6,88.55M169.52,86.67L171.68,87.92M171.68,86.67L169.52,87.92" stroke="#111" stroke-width="1" stroke-linecap="round"/>
<text x="96" y="79.1" font-size="5.62" textLength="10.8" lengthAdjust="spacingAndGlyphs">Dox</text>
<line x1="101.5" y1="81" x2="101.5" y2="93" stroke="#111" stroke-width="0.8"/>
<path d="M99.9,92.2 L103.1,92.2 L101.5,95.9 Z" fill="#111"/>
<line x1="69" y1="36.6" x2="77.6" y2="36.6" stroke="#2e4f9a" stroke-width="0.8"/>
<circle cx="73.3" cy="36.6" r="0.8" fill="#2e4f9a"/>
<text x="80.5" y="38.5" font-size="5.41" textLength="61.4" lengthAdjust="spacingAndGlyphs">Tet-on-shCNTL+Vehicle</text>
<line x1="69" y1="45.23" x2="77.6" y2="45.23" stroke="#c0102e" stroke-width="0.8"/>
<circle cx="73.3" cy="45.23" r="1.25" fill="#c0102e"/>
<text x="80.5" y="47.13" font-size="5.41" textLength="53.4" lengthAdjust="spacingAndGlyphs">Tet-on-shCNTL+Dox</text>
<line x1="69" y1="53.86" x2="77.6" y2="53.86" stroke="#6ab53e" stroke-width="0.8"/>
<circle cx="73.3" cy="53.86" r="0.8" fill="#6ab53e"/>
<text x="80.5" y="55.76" font-size="5.41" textLength="58.2" lengthAdjust="spacingAndGlyphs">Tet-on-shGCK+Vehicle</text>
<line x1="69" y1="62.49" x2="77.6" y2="62.49" stroke="#5a2d86" stroke-width="0.8"/>
<circle cx="73.3" cy="62.49" r="0.9" fill="#5a2d86"/>
<text x="80.5" y="64.39" font-size="5.41" textLength="50.4" lengthAdjust="spacingAndGlyphs">Tet-on-shGCK+Dox</text>
<line x1="231.6" y1="33.6" x2="231.6" y2="101.15" stroke="#111" stroke-width="1.25"/>
<line x1="231" y1="100.55" x2="306.8" y2="100.55" stroke="#111" stroke-width="1.3"/>
<line x1="228.2" y1="100.55" x2="231.6" y2="100.55" stroke="#111" stroke-width="1"/>
<text x="223.8" y="102.55" font-size="6.15" text-anchor="middle">0</text>
<line x1="228.2" y1="79.2" x2="231.6" y2="79.2" stroke="#111" stroke-width="1"/>
<text transform="translate(225.9 79.2) rotate(-90)" font-size="6.15" text-anchor="middle">1</text>
<line x1="228.2" y1="57.85" x2="231.6" y2="57.85" stroke="#111" stroke-width="1"/>
<text transform="translate(225.9 57.85) rotate(-90)" font-size="6.15" text-anchor="middle">2</text>
<line x1="228.2" y1="36.5" x2="231.6" y2="36.5" stroke="#111" stroke-width="1"/>
<text transform="translate(225.9 36.5) rotate(-90)" font-size="6.15" text-anchor="middle">3</text>
<text transform="translate(217.3 91.8) rotate(-90)" font-size="8.06" textLength="49.6" lengthAdjust="spacingAndGlyphs">Tumor weight (g)</text>
<line x1="241" y1="100.55" x2="241" y2="103.35" stroke="#111" stroke-width="1"/>
<line x1="259.5" y1="100.55" x2="259.5" y2="103.35" stroke="#111" stroke-width="1"/>
<line x1="278.4" y1="100.55" x2="278.4" y2="103.35" stroke="#111" stroke-width="1"/>
<line x1="297.3" y1="100.55" x2="297.3" y2="103.35" stroke="#111" stroke-width="1"/>
<rect x="240.25" y="55.05" width="1.5" height="1.5" fill="#b0103a"/>
<rect x="237.65" y="75.15" width="1.5" height="1.5" fill="#b0103a"/>
<rect x="240.25" y="76.25" width="1.5" height="1.5" fill="#b0103a"/>
<rect x="242.85" y="76.15" width="1.5" height="1.5" fill="#b0103a"/>
<rect x="240.25" y="71.25" width="1.5" height="1.5" fill="#b0103a"/>
<line x1="235" y1="72.3" x2="247.1" y2="72.3" stroke="#111" stroke-width="1.1"/>
<line x1="241" y1="68.3" x2="241" y2="76.3" stroke="#111" stroke-width="0.9"/>
<line x1="238.1" y1="68.3" x2="243.9" y2="68.3" stroke="#111" stroke-width="0.9"/>
<line x1="238.1" y1="76.3" x2="243.9" y2="76.3" stroke="#111" stroke-width="0.9"/>
<rect x="256.05" y="68.65" width="1.5" height="1.5" fill="#b0103a"/>
<rect x="259.25" y="69.15" width="1.5" height="1.5" fill="#b0103a"/>
<rect x="261.85" y="68.85" width="1.5" height="1.5" fill="#b0103a"/>
<rect x="259.25" y="74.45" width="1.5" height="1.5" fill="#b0103a"/>
<rect x="259.25" y="82.35" width="1.5" height="1.5" fill="#b0103a"/>
<line x1="253.6" y1="73.3" x2="265.8" y2="73.3" stroke="#111" stroke-width="1.1"/>
<line x1="259.7" y1="70.6" x2="259.7" y2="76.3" stroke="#111" stroke-width="0.9"/>
<line x1="256.9" y1="70.6" x2="262.5" y2="70.6" stroke="#111" stroke-width="0.9"/>
<line x1="256.9" y1="76.3" x2="262.5" y2="76.3" stroke="#111" stroke-width="0.9"/>
<rect x="277.75" y="43.05" width="1.5" height="1.5" fill="#b0103a"/>
<rect x="277.75" y="49.75" width="1.5" height="1.5" fill="#b0103a"/>
<rect x="276.55" y="72.95" width="1.5" height="1.5" fill="#b0103a"/>
<rect x="279.25" y="74.55" width="1.5" height="1.5" fill="#b0103a"/>
<rect x="277.75" y="77.35" width="1.5" height="1.5" fill="#b0103a"/>
<line x1="271.9" y1="64.5" x2="284.8" y2="64.5" stroke="#111" stroke-width="1.1"/>
<line x1="278.4" y1="56.8" x2="278.4" y2="71.4" stroke="#111" stroke-width="0.9"/>
<line x1="275.1" y1="56.8" x2="281.8" y2="56.8" stroke="#111" stroke-width="0.9"/>
<line x1="275.1" y1="71.4" x2="281.8" y2="71.4" stroke="#111" stroke-width="0.9"/>
<rect x="296.65" y="90.35" width="1.5" height="1.5" fill="#b0103a"/>
<rect x="296.65" y="94.85" width="1.5" height="1.5" fill="#b0103a"/>
<rect x="295.05" y="97.85" width="1.5" height="1.5" fill="#b0103a"/>
<rect x="296.65" y="99.45" width="1.5" height="1.5" fill="#b0103a"/>
<rect x="299.05" y="99.05" width="1.5" height="1.5" fill="#b0103a"/>
<line x1="291.7" y1="97" x2="303.4" y2="97" stroke="#333" stroke-width="1"/>
<line x1="297.3" y1="95.3" x2="297.3" y2="98.7" stroke="#333" stroke-width="0.8"/>
<line x1="295.4" y1="95.3" x2="299.2" y2="95.3" stroke="#333" stroke-width="0.8"/>
<line x1="295.4" y1="98.7" x2="299.2" y2="98.7" stroke="#333" stroke-width="0.8"/>
<text x="277.2" y="36.2" font-size="5.51" textLength="24.9" lengthAdjust="spacingAndGlyphs">** P&lt;0.01</text>
<line x1="279.1" y1="39.3" x2="300.7" y2="39.3" stroke="#111" stroke-width="0.9"/>
<text x="221.1" y="110.8" font-size="6.36" textLength="11.1" lengthAdjust="spacingAndGlyphs">Dox</text>
<text x="241" y="110.6" font-size="5.3" text-anchor="middle" fill="#444" stroke="#444">-</text>
<text x="259.5" y="110.6" font-size="5.3" text-anchor="middle" fill="#444" stroke="#444">+</text>
<text x="278.4" y="110.6" font-size="5.3" text-anchor="middle" fill="#444" stroke="#444">-</text>
<text x="297.3" y="110.6" font-size="5.3" text-anchor="middle" fill="#444" stroke="#444">+</text>
<line x1="234.5" y1="113.4" x2="264.4" y2="113.4" stroke="#111" stroke-width="1"/>
<line x1="278" y1="113.4" x2="308.3" y2="113.4" stroke="#111" stroke-width="1"/>
<text x="249.7" y="122.1" font-size="6.47" text-anchor="middle" textLength="16.8" lengthAdjust="spacingAndGlyphs">Tet-on</text>
<text x="249.5" y="128.8" font-size="6.47" text-anchor="middle" textLength="21.3" lengthAdjust="spacingAndGlyphs">shCNTL</text>
<text x="293.1" y="122.1" font-size="6.47" text-anchor="middle" textLength="16.6" lengthAdjust="spacingAndGlyphs">Tet-on</text>
<text x="293" y="128.8" font-size="6.47" text-anchor="middle" textLength="19" lengthAdjust="spacingAndGlyphs">shGCK</text>
<rect x="359" y="23" width="26.4" height="27.4" fill="#888" filter="url(#f10)"/>
<clipPath id="cp1"><rect x="387.3" y="23" width="26.5" height="27.4"/></clipPath>
<g clip-path="url(#cp1)">
<rect x="387.3" y="23" width="26.5" height="27.4" fill="#b27c64"/>
<g filter="url(#cblur)" stroke="#b27c64" stroke-width="1" stroke-linejoin="round">
<path d="M378.06,14.06 L383.25,14.06 L387.6,22.07 L378.71,24.58 L378.06,24.56Z" fill="url(#cg0)"/>
<path d="M384.48,13.63 L395.66,13.63 L393.57,18.46 L389.21,21.47 L388.57,21.17Z" fill="url(#cg1)"/>
<path d="M397.09,14.18 L404.06,14.18 L406.27,19.6 L405.57,20.9 L402.51,23.28 L394.96,19.12Z" fill="url(#cg2)"/>
<path d="M406.01,13.69 L414.67,13.69 L414.17,18.42 L408,18.59Z" fill="url(#cg1)"/>
<path d="M416.27,13.81 L422.65,13.81 L422.65,23.73 L421.68,23.75 L415.75,18.76Z" fill="url(#cg3)"/>
<path d="M379.1,25.55 L387.68,23.13 L388.33,23.44 L389.93,28.86 L385.5,34.46 L385.32,34.48Z" fill="url(#cg2)"/>
<path d="M391.73,28.31 L390.15,22.95 L394.57,19.9 L402.06,24.03 L400.63,28.99 L396.56,30.17Z" fill="url(#cg2)"/>
<path d="M401.68,29.48 L403.19,24.24 L406.4,21.74 L410.81,28.88 L405.04,32.12Z" fill="url(#cg0)"/>
<path d="M416.01,29.24 L411.2,28.55 L406.9,21.59 L407.61,20.28 L414.57,20.08 L420.96,25.46Z" fill="url(#cg1)"/>
<path d="M378.34,36.75 L378.34,26.31 L378.9,26.33 L384.47,34.32Z" fill="url(#cg0)"/>
<path d="M386.67,35.39 L391.11,29.8 L396,31.68 L396.21,38.61 L389.59,39.29Z" fill="url(#cg1)"/>
<path d="M397.43,38.39 L397.23,31.99 L401.04,30.89 L404.01,33.21 L404.86,36.14 L400.55,40.96 L399.71,40.96Z" fill="url(#cg0)"/>
<path d="M406.67,35.65 L405.8,32.66 L411.02,29.74 L415.48,30.38 L413.47,37.54 L411.54,37.85Z" fill="url(#cg0)"/>
<path d="M422.99,26.51 L422.99,43.59 L420.87,43.78 L414.69,38.21 L416.89,30.37 L421.92,26.53Z" fill="url(#cg0)"/>
<path d="M379.22,45.63 L379.22,39.15 L385.45,36.68 L385.61,36.67 L388.26,40.22 L388.13,46.16 L386.75,46.65Z" fill="url(#cg0)"/>
<path d="M389.35,46.77 L389.49,39.94 L396.42,39.23 L399.01,42.15 L393.8,48.56Z" fill="url(#cg0)"/>
<path d="M401.32,42.05 L405.98,36.83 L411.14,39.16 L408.55,43.8 L404.74,45.13Z" fill="url(#cg2)"/>
<path d="M414.28,49.88 L409.52,44.23 L411.88,40.03 L413.72,39.74 L419.14,44.62Z" fill="url(#cg0)"/>
<path d="M384.42,58.4 L378.94,58.4 L378.94,47.73 L386.46,48.75Z" fill="url(#cg3)"/>
<path d="M396.96,58.72 L385.46,58.72 L387.54,48.9 L388.95,48.4 L392.9,49.99Z" fill="url(#cg1)"/>
<path d="M404.67,57.69 L399.18,57.69 L395.11,48.95 L399.72,43.28 L400.56,43.28 L403.73,46.14Z" fill="url(#cg0)"/>
<path d="M410.68,58.33 L406.03,58.33 L405.01,45.89 L408.81,44.56 L414.05,50.79Z" fill="url(#cg2)"/>
<path d="M423.05,45.76 L423.05,58.9 L412.58,58.9 L415.86,51.57 L421.06,45.94Z" fill="url(#cg1)"/>
</g>
<rect x="387.3" y="23" width="26.5" height="27.4" fill="#888" opacity="0.3" filter="url(#f17)"/>
</g>
<rect x="426.2" y="23" width="26.6" height="27.4" fill="#888" filter="url(#f24)"/>
<clipPath id="cp2"><rect x="458" y="23" width="26.6" height="27.4"/></clipPath>
<g clip-path="url(#cp2)">
<rect x="458" y="23" width="26.6" height="27.4" fill="#b88c7c"/>
<g filter="url(#cblur)" stroke="#b88c7c" stroke-width="1" stroke-linejoin="round">
<path d="M450.75,15.8 L457.85,15.8 L457.59,20.57 L450.75,22.43Z" fill="url(#cg4)"/>
<path d="M458.93,15.78 L463.19,15.78 L465.22,20.83 L459.38,21.92 L458.66,20.65Z" fill="url(#cg5)"/>
<path d="M463.97,15.64 L472.24,15.64 L471.64,18.59 L467.4,21.74 L465.9,20.47Z" fill="url(#cg5)"/>
<path d="M473.9,15.98 L480.97,15.98 L481.24,20.82 L477.61,24.17 L476.79,24.05 L473.31,18.92Z" fill="url(#cg6)"/>
<path d="M482.42,15.91 L491.38,15.91 L491.38,22.51 L485.28,22.3 L482.69,20.74Z" fill="url(#cg4)"/>
<path d="M451.27,26.31 L451.27,23.12 L457.57,21.41 L458.22,22.55 L458.56,25.93 L456.9,27.49Z" fill="url(#cg4)"/>
<path d="M459.87,26.01 L459.5,22.33 L465.26,21.25 L466.8,22.56 L466.47,26.44 L465.37,26.86Z" fill="url(#cg4)"/>
<path d="M467.46,26.67 L467.8,22.6 L472.41,19.19 L476.2,24.76 L470.8,28.69Z" fill="url(#cg6)"/>
<path d="M478.2,25.06 L482.05,21.51 L484.8,23.17 L483.41,28.9 L481.69,30.41Z" fill="url(#cg4)"/>
<path d="M491.56,23.54 L491.56,26.89 L483.85,28.94 L485.21,23.32Z" fill="url(#cg4)"/>
<path d="M450.52,38.59 L450.52,27.39 L456.98,28.74 L457.72,34.1 L451.35,38.46Z" fill="url(#cg6)"/>
<path d="M458.58,33.87 L457.86,28.72 L459.7,27 L465.24,27.85 L462.39,35.12Z" fill="url(#cg6)"/>
<path d="M463.1,35.27 L465.87,28.23 L466.95,27.82 L470.06,29.69 L471.22,33.69 L469.26,34.99 L463.43,35.64Z" fill="url(#cg6)"/>
<path d="M472.47,33.49 L471.23,29.23 L476.58,25.34 L477.47,25.47 L481.03,30.92 L480.88,32.7 L476.42,35.49Z" fill="url(#cg5)"/>
<path d="M491.26,27.79 L491.26,34.4 L484.83,33.83 L482.68,32.51 L482.8,30.97 L484.32,29.64Z" fill="url(#cg5)"/>
<path d="M452.68,39.17 L458.28,35.35 L461.75,36.49 L462.06,36.84 L462.3,41.13 L459.58,42.76Z" fill="url(#cg7)"/>
<path d="M463.61,41.29 L463.34,36.48 L469.49,35.8 L468.56,41.77 L465.61,42.4Z" fill="url(#cg6)"/>
<path d="M469.03,41.78 L469.94,35.97 L471.95,34.63 L475.76,36.57 L475.89,41.37 L472.08,43.02Z" fill="url(#cg6)"/>
<path d="M477.73,41.15 L477.6,36.76 L481.53,34.31 L483.71,35.65 L483.76,40.93 L479.25,42.61Z" fill="url(#cg4)"/>
<path d="M491.5,36 L491.5,44.34 L484.57,41.05 L484.51,35.38Z" fill="url(#cg8)"/>
<path d="M451.12,47.54 L451.12,40.26 L451.88,40.14 L459.11,43.9 L458.39,48.69Z" fill="url(#cg6)"/>
<path d="M459.79,49.79 L459.3,49.08 L460.08,43.89 L463.16,42.04 L465.19,43.16 L465.73,47.07Z" fill="url(#cg4)"/>
<path d="M466.35,46.94 L465.83,43.18 L468.71,42.57 L471.76,43.82 L470.53,48.66 L469.3,49.76Z" fill="url(#cg7)"/>
<path d="M471.2,48.89 L472.46,43.93 L476.37,42.24 L478.08,43.9 L478.8,46.54 L477.38,49.41Z" fill="url(#cg5)"/>
<path d="M491.15,45.14 L491.15,45.27 L486.49,48.33 L480.02,46.18 L479.33,43.65 L484.19,41.84Z" fill="url(#cg4)"/>
<path d="M460.48,57.39 L450.81,57.39 L450.81,48.56 L458.33,49.75 L458.8,50.43Z" fill="url(#cg4)"/>
<path d="M467.3,56.78 L461.95,56.78 L460.33,50.09 L465.78,47.59 L468.59,50.28Z" fill="url(#cg8)"/>
<path d="M478.22,57.53 L468.47,57.53 L469.87,50.5 L471.14,49.38 L477.36,49.9Z" fill="url(#cg5)"/>
<path d="M483.4,56.65 L479.36,56.65 L478.6,49.93 L479.87,47.38 L485.86,49.37Z" fill="url(#cg5)"/>
<path d="M492.1,46.35 L492.1,57.65 L484.52,57.65 L487.27,49.53Z" fill="url(#cg7)"/>
</g>
<rect x="458" y="23" width="26.6" height="27.4" fill="#888" opacity="0.3" filter="url(#f31)"/>
</g>
<rect x="359" y="52.9" width="26.4" height="27.4" fill="#888" filter="url(#f38)"/>
<clipPath id="cp3"><rect x="387.3" y="52.9" width="26.5" height="27.4"/></clipPath>
<g clip-path="url(#cp3)">
<rect x="387.3" y="52.9" width="26.5" height="27.4" fill="#b48a7c"/>
<g filter="url(#cblur)" stroke="#b48a7c" stroke-width="1" stroke-linejoin="round">
<path d="M378.55,44.45 L384.34,44.45 L383.04,51.9 L381.3,53.03 L378.55,53.39Z" fill="url(#cg9)"/>
<path d="M385.49,44.31 L393.48,44.31 L393.86,49.12 L389.22,53.54 L384.07,52.44Z" fill="url(#cg10)"/>
<path d="M394.88,44.67 L403.96,44.67 L404.59,50.41 L399.89,52.9 L395.23,48.95Z" fill="url(#cg9)"/>
<path d="M405.49,44.16 L414.5,44.16 L414.92,49.98 L406.7,50.86 L406.2,50.55Z" fill="url(#cg11)"/>
<path d="M415.68,44.41 L421.97,44.41 L421.97,53.84 L421.2,53.75 L416.04,49.44Z" fill="url(#cg12)"/>
<path d="M382.27,54.64 L384.07,53.46 L388.95,54.51 L391.47,59.09 L385.65,61.57Z" fill="url(#cg10)"/>
<path d="M392.51,58.31 L390.16,54.03 L394.27,50.11 L398.9,54.03 L398.25,56.15 L393.28,58.73Z" fill="url(#cg10)"/>
<path d="M402.64,60.87 L399.88,56.68 L400.57,54.43 L405.55,51.79 L406.03,52.08 L408.56,58.2Z" fill="url(#cg11)"/>
<path d="M412.19,59.68 L409.53,57.82 L406.98,51.65 L414.88,50.81 L420.6,55.59Z" fill="url(#cg9)"/>
<path d="M378.93,65.96 L378.93,55.75 L381.58,55.42 L384.71,61.84 L384.01,63.99Z" fill="url(#cg9)"/>
<path d="M385.1,64.56 L385.87,62.2 L391.79,59.68 L392.63,60.15 L393.77,66.43 L390.1,68.15Z" fill="url(#cg9)"/>
<path d="M395.08,65.86 L394.03,60.13 L398.96,57.57 L401.52,61.46 L401.32,66.13 L399.02,67.44Z" fill="url(#cg10)"/>
<path d="M402.74,66.45 L402.96,61.49 L408.81,58.85 L411.42,60.67 L410.88,63.42 L407.88,67.39Z" fill="url(#cg10)"/>
<path d="M421.95,57.03 L421.95,69.92 L412.31,63.7 L412.85,60.95 L421.11,56.93Z" fill="url(#cg9)"/>
<path d="M379.37,72.59 L379.37,67.51 L384.63,65.47 L389.35,68.87 L388.27,71.57 L385.62,73.45Z" fill="url(#cg10)"/>
<path d="M389.65,72.13 L390.75,69.4 L394.25,67.76 L398.38,69.41 L398.25,73.14 L395.36,77.71Z" fill="url(#cg9)"/>
<path d="M399.94,73.2 L400.07,69.47 L402.48,68.09 L407.56,69.02 L410.71,74.81 L405.6,76.73Z" fill="url(#cg10)"/>
<path d="M422.09,70.61 L422.09,71.59 L414.82,75.35 L413.61,75.31 L412.03,74.49 L408.61,68.22 L411.81,63.98Z" fill="url(#cg13)"/>
<path d="M379.36,83.77 L379.36,74.27 L385.34,75.09 L387.27,81.39Z" fill="url(#cg10)"/>
<path d="M388.35,81.56 L386.18,74.46 L389.03,72.43 L395.13,78.39 L394.72,81.76 L392.64,83.02Z" fill="url(#cg9)"/>
<path d="M396.11,81.73 L396.49,78.51 L399.44,73.84 L405.22,77.44 L402.56,82.44 L397.78,82.29Z" fill="url(#cg13)"/>
<path d="M408.05,86.6 L403.68,82.73 L406.14,78.12 L410.95,76.31 L412.32,77.02Z" fill="url(#cg9)"/>
<path d="M422.63,72.79 L422.63,88.51 L420.09,88.51 L415.47,76.5Z" fill="url(#cg9)"/>
<path d="M391.45,89.15 L378.96,89.15 L378.96,85.26 L388.02,82.54 L392.38,84.02Z" fill="url(#cg12)"/>
<path d="M399.42,89.35 L392.87,89.35 L393.72,84.66 L395.65,83.49 L397.27,84.04Z" fill="url(#cg11)"/>
<path d="M407.22,89.08 L400.04,89.08 L397.97,83.96 L402.43,84.1 L406.86,88.02Z" fill="url(#cg9)"/>
<path d="M419.07,88.52 L409.37,88.52 L408.98,87.4 L413.57,77.12 L414.7,77.16Z" fill="url(#cg12)"/>
</g>
<rect x="387.3" y="52.9" width="26.5" height="27.4" fill="#888" opacity="0.3" filter="url(#f45)"/>
</g>
<rect x="426.2" y="52.9" width="26.6" height="27.4" fill="#888" filter="url(#f52)"/>
<clipPath id="cp4"><rect x="458" y="52.9" width="26.6" height="27.4"/></clipPath>
<g clip-path="url(#cp4)">
<rect x="458" y="52.9" width="26.6" height="27.4" fill="#e6d8e4"/>
<g filter="url(#cblur)" stroke="#e6d8e4" stroke-width="1" stroke-linejoin="round">
<path d="M450.44,45.19 L458.26,45.19 L456.56,50.72 L452.94,52.87 L450.44,52.53Z" fill="url(#cg14)"/>
<path d="M459.45,45.32 L465.02,45.32 L467.05,50.39 L462.24,53.77 L457.64,51.18Z" fill="url(#cg15)"/>
<path d="M466.69,45.02 L473.45,45.02 L473.47,48.86 L470.26,50.64 L468.51,49.58Z" fill="url(#cg14)"/>
<path d="M474.19,44.92 L480.5,44.92 L478.4,49.37 L474.21,49.04Z" fill="url(#cg16)"/>
<path d="M481.62,45.57 L490.22,45.57 L486.22,51.27 L479.88,50.54 L479.6,49.87Z" fill="url(#cg14)"/>
<path d="M453.28,54.05 L457.24,51.69 L461.97,54.37 L462,57.82 L455.65,57.87Z" fill="url(#cg17)"/>
<path d="M464.13,60.22 L462.71,57.75 L462.69,54.41 L467.49,51.03 L469.43,52.21 L470.83,56.86 L469.68,59.31Z" fill="url(#cg14)"/>
<path d="M471.95,56.5 L470.58,51.9 L474.1,49.95 L478.39,50.29 L478.69,51.01 L478.98,56.2Z" fill="url(#cg14)"/>
<path d="M479.88,56.19 L479.59,50.93 L486.39,51.71 L485.11,57.22 L481.98,58.11Z" fill="url(#cg17)"/>
<path d="M491.5,45.49 L492.55,45.49 L492.55,60.21 L485.73,57.51 L487.06,51.81Z" fill="url(#cg14)"/>
<path d="M450.05,67.86 L450.05,54.21 L452.7,54.58 L454.99,58.28 L454.99,65.29 L450.55,67.9Z" fill="url(#cg15)"/>
<path d="M455.67,65.42 L455.67,58.23 L461.97,58.18 L463.43,60.7 L461.19,64.86 L459.88,65.36Z" fill="url(#cg17)"/>
<path d="M462.7,65.21 L464.64,61.61 L469.56,60.8 L471.71,65.16 L468.97,68.52 L467.93,68.89Z" fill="url(#cg15)"/>
<path d="M473.41,64.42 L471.19,59.89 L472.25,57.63 L478.81,57.36 L480.75,59.13 L479.3,64.27 L477.45,64.93Z" fill="url(#cg15)"/>
<path d="M491.61,61.23 L491.61,61.88 L484.31,67.4 L481.15,64.81 L482.6,59.63 L485.5,58.81Z" fill="url(#cg15)"/>
<path d="M451.7,69.34 L455.92,66.87 L459.82,66.81 L460.85,73.34 L456.02,74.99Z" fill="url(#cg17)"/>
<path d="M461.45,73.27 L460.41,66.64 L461.65,66.17 L467.33,70.18 L465.3,74.91Z" fill="url(#cg15)"/>
<path d="M470.27,69.72 L473.16,66.18 L477.26,66.7 L476.59,71.24 L474.26,73.35Z" fill="url(#cg17)"/>
<path d="M477.44,71.36 L478.11,66.79 L480.01,66.12 L483.22,68.76 L484.03,70.76 L480.52,73.8Z" fill="url(#cg14)"/>
<path d="M492.02,62.81 L492.02,72.67 L489.85,72.75 L485.79,69.98 L485.04,68.09Z" fill="url(#cg15)"/>
<path d="M449.99,82.43 L449.99,70.48 L450.45,70.51 L454.66,76 L455.14,79.55Z" fill="url(#cg15)"/>
<path d="M456.46,79.62 L455.93,75.68 L461.16,73.89 L465.27,75.63 L465.73,78.02 L458.21,80.69Z" fill="url(#cg14)"/>
<path d="M466.79,77.73 L466.34,75.43 L468.43,70.57 L469.58,70.15 L473.81,74 L474.17,77.72 L469.76,80.58Z" fill="url(#cg15)"/>
<path d="M475.2,77.31 L474.87,73.92 L477.12,71.87 L480.08,74.21 L478.95,77.8Z" fill="url(#cg14)"/>
<path d="M485.59,78.8 L479.79,78.46 L479.76,78.42 L481.01,74.45 L484.73,71.23 L489.3,74.36Z" fill="url(#cg16)"/>
<path d="M459.2,87.84 L450.93,87.84 L450.93,83.85 L455.87,81.08 L457.37,82.01Z" fill="url(#cg17)"/>
<path d="M468.95,87.97 L460.55,87.97 L458.45,81.27 L465.89,78.63 L468.95,81.56Z" fill="url(#cg15)"/>
<path d="M479.53,87.35 L471.02,87.35 L471.03,81.74 L474.99,79.17 L478.68,79.65 L478.71,79.68Z" fill="url(#cg15)"/>
<path d="M487.19,87.7 L480.72,87.7 L479.81,79.24 L485.51,79.58Z" fill="url(#cg15)"/>
<path d="M492.37,75.01 L492.37,87.46 L488.05,87.46 L486.38,79.42 L489.98,75.1Z" fill="url(#cg15)"/>
</g>
<rect x="458" y="52.9" width="26.6" height="27.4" fill="#888" opacity="0.25" filter="url(#f59)"/>
</g>
<rect x="357.2" y="103.5" width="28.2" height="27.1" fill="#888" filter="url(#f66)"/>
<clipPath id="cp5"><rect x="387.2" y="103.5" width="27.3" height="27.1"/></clipPath>
<g clip-path="url(#cp5)">
<rect x="387.2" y="103.5" width="27.3" height="27.1" fill="#d0a098"/>
<g filter="url(#cblur)" stroke="#d0a098" stroke-width="0.7" stroke-linejoin="round">
<path d="M379.16,95.21 L387.45,95.21 L386.95,101.15 L379.16,102.11Z" fill="url(#cg18)"/>
<path d="M388.11,95.38 L395.62,95.38 L395.15,100.12 L391.38,104.03 L387.63,101.11Z" fill="url(#cg19)"/>
<path d="M396.68,95.21 L404.53,95.21 L405.78,99.32 L399.98,102.72 L396.18,100.29Z" fill="url(#cg18)"/>
<path d="M405.49,95.19 L414.84,95.19 L409.98,101.63 L408.97,101.61 L406.64,98.99Z" fill="url(#cg20)"/>
<path d="M415.47,95.6 L420.42,95.6 L416.04,105.86 L410.55,102.11Z" fill="url(#cg19)"/>
<path d="M379.54,108.78 L379.54,102.91 L386.95,102 L390.65,104.87 L390.62,106.27 L385.09,110.03Z" fill="url(#cg19)"/>
<path d="M391.97,106.36 L392,104.86 L395.97,100.75 L399.71,103.14 L401.67,107.73 L394.98,109.57Z" fill="url(#cg18)"/>
<path d="M402.12,107.58 L400.14,102.94 L405.89,99.56 L408.38,102.38 L405.91,106.11 L402.38,107.69Z" fill="url(#cg19)"/>
<path d="M411.31,112.27 L406.44,106.45 L408.88,102.75 L409.95,102.76 L415.71,106.69 L416.51,108.83Z" fill="url(#cg18)"/>
<path d="M421.23,95.98 L422.89,95.98 L422.89,110.69 L417.63,108.23 L416.87,106.19Z" fill="url(#cg18)"/>
<path d="M379.14,119.69 L379.14,110.16 L384.78,111.43 L387.29,116.9Z" fill="url(#cg19)"/>
<path d="M388.11,116.65 L385.51,110.95 L391.36,106.97 L394.35,110.15 L394.62,116.6 L389.98,117.87Z" fill="url(#cg21)"/>
<path d="M395.54,116.45 L395.28,110.17 L401.73,108.39 L401.98,108.5 L403.7,116.11 L399.5,118.67Z" fill="url(#cg18)"/>
<path d="M404.39,116.22 L402.57,108.2 L406.14,106.61 L411.11,112.55 L408.78,116.44Z" fill="url(#cg21)"/>
<path d="M422.17,112.27 L422.17,115.42 L417.86,119.85 L415.31,120.17 L410.06,117.14 L409.75,116.72 L411.93,113.08 L416.89,109.79Z" fill="url(#cg21)"/>
<path d="M379.39,122.25 L379.39,120.33 L387.49,117.56 L389.27,118.73 L388.13,122.99 L386.24,123.93Z" fill="url(#cg20)"/>
<path d="M389.05,123.29 L390.24,118.82 L394.89,117.55 L398.95,119.83 L399.08,124.36 L396.05,128.12 L393.87,128.74Z" fill="url(#cg19)"/>
<path d="M400.56,124.24 L400.43,119.98 L404.5,117.5 L408.52,117.7 L408.82,118.11 L408.16,123.81 L406.2,127.09Z" fill="url(#cg18)"/>
<path d="M408.87,123.89 L409.53,118.14 L414.73,121.14 L413.36,125.07Z" fill="url(#cg18)"/>
<path d="M423.06,116.45 L423.06,129.32 L422.43,129.11 L418.85,120.77Z" fill="url(#cg18)"/>
<path d="M378.94,132.06 L378.94,122.73 L386.25,124.52 L384.37,131.44Z" fill="url(#cg20)"/>
<path d="M384.73,131.5 L386.6,124.64 L388.6,123.65 L393.48,129.15 L389.93,133.43Z" fill="url(#cg19)"/>
<path d="M399.2,131.86 L396.92,128.78 L399.91,125.08 L405.82,128.06 L407.5,130.97Z" fill="url(#cg18)"/>
<path d="M408.48,130.2 L406.9,127.45 L408.84,124.22 L413.22,125.36 L413.38,130.47 L413.23,130.58 L409.82,131.73Z" fill="url(#cg19)"/>
<path d="M414.21,130.69 L414.04,125.33 L415.44,121.29 L418.03,120.97 L421.75,129.66Z" fill="url(#cg18)"/>
<path d="M390.41,138.97 L379.31,138.97 L379.31,133.05 L384.47,132.46 L389.44,134.3Z" fill="url(#cg18)"/>
<path d="M400.94,138.91 L391.53,138.91 L390.51,133.97 L394.1,129.63 L396.34,128.99 L398.71,132.19Z" fill="url(#cg20)"/>
<path d="M406.34,138.27 L401.43,138.27 L399.38,132.12 L407.27,131.27 L408.63,132.83Z" fill="url(#cg18)"/>
<path d="M417.24,139.05 L407.98,139.05 L410.32,133.48 L413.84,132.28Z" fill="url(#cg21)"/>
<path d="M422.51,131.13 L422.51,138.84 L417.67,138.84 L414.27,132.05 L414.42,131.94 L421.87,130.92Z" fill="url(#cg21)"/>
</g>
<rect x="387.2" y="103.5" width="27.3" height="27.1" fill="#888" opacity="0.25" filter="url(#f73)"/>
</g>
<rect x="427.9" y="103.5" width="29" height="27.1" fill="#888" filter="url(#f80)"/>
<clipPath id="cp6"><rect x="460.5" y="103.5" width="28.3" height="27.1"/></clipPath>
<g clip-path="url(#cp6)">
<rect x="460.5" y="103.5" width="28.3" height="27.1" fill="#d4a49c"/>
<g filter="url(#cblur)" stroke="#d4a49c" stroke-width="0.7" stroke-linejoin="round">
<path d="M452.11,95.3 L457.25,95.3 L461.35,101.82 L461.13,102.62 L455.84,106.28 L453.73,107.24 L452.11,106.94Z" fill="url(#cg21)"/>
<path d="M458.1,94.51 L469.18,94.51 L469.02,97.55 L462.41,101.39Z" fill="url(#cg18)"/>
<path d="M470.55,94.57 L477.94,94.57 L477.73,99.26 L473.28,100.92 L470.39,97.62Z" fill="url(#cg21)"/>
<path d="M478.29,94.47 L485.44,94.47 L485.92,97.72 L483.65,101.16 L478.08,99.4Z" fill="url(#cg21)"/>
<path d="M486.67,94.43 L497.14,94.43 L497.14,100.65 L487.11,97.41Z" fill="url(#cg20)"/>
<path d="M456.39,107.51 L462.03,103.61 L466.96,109.07 L465.85,111.92Z" fill="url(#cg18)"/>
<path d="M462.44,103.06 L462.68,102.17 L469.59,98.16 L472.6,101.59 L473.06,106.57 L467.53,108.7Z" fill="url(#cg21)"/>
<path d="M473.93,106.38 L473.49,101.56 L477.98,99.89 L483.32,101.58 L483.22,105.75 L475.61,107.57Z" fill="url(#cg18)"/>
<path d="M496.94,101.75 L496.94,108.26 L486.72,108.19 L484.48,105.71 L484.57,101.65 L486.69,98.44Z" fill="url(#cg20)"/>
<path d="M451.48,123.02 L451.48,108.86 L453.24,109.18 L458.53,116.42 L452.2,122.97Z" fill="url(#cg20)"/>
<path d="M459.17,115.97 L453.86,108.7 L456.17,107.65 L465.86,112.16 L465.27,116.55 L464.19,117.19Z" fill="url(#cg20)"/>
<path d="M466.11,116.63 L466.7,112.27 L467.83,109.37 L473.27,107.28 L474.97,108.48 L476.1,116.85 L473.59,118.55Z" fill="url(#cg22)"/>
<path d="M476.79,116.85 L475.64,108.32 L483.54,106.44 L485.93,109.08 L482.85,117.51Z" fill="url(#cg22)"/>
<path d="M497.35,109.42 L497.35,118.63 L485.2,119.65 L483.51,117.71 L486.56,109.34Z" fill="url(#cg21)"/>
<path d="M452.72,123.37 L458.96,116.92 L463.88,118.11 L462.63,125.57 L459.26,126.97Z" fill="url(#cg21)"/>
<path d="M463.52,125.76 L464.79,118.2 L465.86,117.57 L473.35,119.49 L473.31,122.86 L466.02,127.51Z" fill="url(#cg20)"/>
<path d="M476.84,129.1 L474.25,122.88 L474.29,119.55 L476.77,117.87 L482.64,118.51 L484.29,120.41 L484.12,122.75Z" fill="url(#cg20)"/>
<path d="M497.51,119.3 L497.51,127.58 L487.1,127.05 L485.02,122.76 L485.19,120.33Z" fill="url(#cg18)"/>
<path d="M456.2,139.03 L451.53,139.03 L451.53,124.06 L452.26,124.01 L458.94,127.69Z" fill="url(#cg18)"/>
<path d="M471.43,138.67 L457.28,138.67 L459.82,128.13 L463.01,126.81 L465.36,128.45Z" fill="url(#cg22)"/>
<path d="M475.16,138.31 L472.62,138.31 L466.38,127.79 L473.4,123.3 L475.92,129.37Z" fill="url(#cg18)"/>
<path d="M483.26,138.57 L476.49,138.57 L477.27,129.51 L484.47,123.23 L486.46,127.32Z" fill="url(#cg18)"/>
<path d="M497.25,128.01 L497.25,138.92 L483.92,138.92 L487.17,127.49Z" fill="url(#cg20)"/>
</g>
<rect x="460.5" y="103.5" width="28.3" height="27.1" fill="#888" opacity="0.25" filter="url(#f87)"/>
</g>
<rect x="357.2" y="135" width="28.2" height="28.1" fill="#888" filter="url(#f94)"/>
<clipPath id="cp7"><rect x="387.2" y="135" width="27.3" height="28.1"/></clipPath>
<g clip-path="url(#cp7)">
<rect x="387.2" y="135" width="27.3" height="28.1" fill="#d0a298"/>
<g filter="url(#cblur)" stroke="#d0a298" stroke-width="0.7" stroke-linejoin="round">
<path d="M379.2,126.74 L386.14,126.74 L388.03,132.71 L380.44,135.52 L379.2,135.14Z" fill="url(#cg18)"/>
<path d="M386.72,126.72 L394.57,126.72 L394.35,131.67 L392.55,133.12 L388.5,132.35Z" fill="url(#cg21)"/>
<path d="M396.24,126.77 L405.8,126.77 L405.09,130.69 L400.5,133.58 L396.01,131.78Z" fill="url(#cg19)"/>
<path d="M406.83,126.76 L410.82,126.76 L414.74,132.37 L410.11,135.06 L406.07,130.92Z" fill="url(#cg18)"/>
<path d="M411.32,126.52 L422.24,126.52 L422.24,126.96 L416.44,132.08 L415.13,131.98Z" fill="url(#cg21)"/>
<path d="M381.16,136.3 L388.25,133.68 L392.26,134.43 L391.79,138.46 L385.53,141.09Z" fill="url(#cg21)"/>
<path d="M393.22,138.64 L393.7,134.55 L395.51,133.1 L399.96,134.89 L402.17,140.86 L401.01,142.05 L395.7,142.99Z" fill="url(#cg18)"/>
<path d="M403.1,140.89 L400.68,134.36 L405.66,131.21 L409.8,135.46 L408.75,140.73Z" fill="url(#cg18)"/>
<path d="M410.39,141.11 L409.76,140.52 L410.71,135.75 L415,133.25 L416.26,133.35 L419.3,141.38 L419.1,141.48Z" fill="url(#cg18)"/>
<path d="M422.96,127.59 L422.96,141.63 L420.29,141.41 L417.04,132.82Z" fill="url(#cg20)"/>
<path d="M378.86,149.91 L378.86,136.72 L380.05,137.09 L384.56,142.02 L385.05,146.35Z" fill="url(#cg18)"/>
<path d="M386.35,146.12 L385.87,141.92 L392.14,139.28 L394.59,143.58 L393.56,145.48 L389.35,147.52Z" fill="url(#cg19)"/>
<path d="M394.6,146.09 L395.71,144.03 L401.39,143.04 L402.58,149.85 L398.56,152.07Z" fill="url(#cg21)"/>
<path d="M403.06,149.82 L401.85,142.86 L403.12,141.56 L408.76,141.4 L409.46,142.05 L409.62,148.37 L405.66,150.8Z" fill="url(#cg21)"/>
<path d="M414.97,151.09 L410.47,148.18 L410.32,142.43 L419.06,142.8Z" fill="url(#cg20)"/>
<path d="M379.07,152.53 L379.07,150.89 L385.68,147.09 L388.98,148.63 L389.96,154.91 L386.6,158.04Z" fill="url(#cg18)"/>
<path d="M390.83,154.5 L389.94,148.77 L394.17,146.72 L397.84,152.26 L396.93,154.65 L395.85,155.31Z" fill="url(#cg19)"/>
<path d="M398.11,155.16 L399.05,152.7 L402.87,150.59 L405.29,151.5 L405.88,154.36 L404.24,158.59Z" fill="url(#cg18)"/>
<path d="M406.69,154.2 L406.08,151.29 L409.85,148.98 L414.56,152.02 L415.56,155.06 L414.85,155.87Z" fill="url(#cg18)"/>
<path d="M422.69,143.34 L422.69,154.96 L416.85,154.49 L415.88,151.56 L419.98,143.23 L420.18,143.13Z" fill="url(#cg18)"/>
<path d="M378.78,167.33 L378.78,153.12 L386.13,158.51 L385.84,162.55Z" fill="url(#cg20)"/>
<path d="M386.97,162.6 L387.25,158.6 L390.5,155.58 L395.82,156.43 L395.7,160.84 L390.28,164.28Z" fill="url(#cg18)"/>
<path d="M400.54,164.99 L396.32,160.87 L396.45,156.38 L397.62,155.66 L404.05,159.26 L405.34,162.85Z" fill="url(#cg21)"/>
<path d="M406.26,162.24 L405.04,158.86 L406.67,154.68 L414.59,156.29 L413.55,158.54 L407.97,162.92Z" fill="url(#cg18)"/>
<path d="M422.62,156.59 L422.62,165.27 L418.56,164.72 L414.91,159.16 L415.96,156.9 L416.66,156.11Z" fill="url(#cg18)"/>
<path d="M393.85,171.46 L379.64,171.46 L379.64,168.3 L386.51,163.65 L389.76,165.31Z" fill="url(#cg21)"/>
<path d="M396.56,170.87 L394.73,170.87 L390.64,164.72 L395.96,161.34 L400.02,165.31Z" fill="url(#cg20)"/>
<path d="M410.05,171.39 L397.82,171.39 L401.12,166.08 L405.53,164.11 L407.2,164.77 L410.01,170.81Z" fill="url(#cg18)"/>
<path d="M411.43,170.57 L408.33,163.91 L414.32,159.2 L418.2,165.12Z" fill="url(#cg20)"/>
<path d="M422.49,166.17 L422.49,171.33 L412.11,171.33 L412.07,170.74 L418.43,165.62Z" fill="url(#cg20)"/>
</g>
<rect x="387.2" y="135" width="27.3" height="28.1" fill="#888" opacity="0.25" filter="url(#f101)"/>
</g>
<rect x="427.9" y="135" width="29" height="28.1" fill="#888" filter="url(#f108)"/>
<clipPath id="cp8"><rect x="460.5" y="135" width="28.3" height="28.1"/></clipPath>
<g clip-path="url(#cp8)">
<rect x="460.5" y="135" width="28.3" height="28.1" fill="#d8c0cc"/>
<g filter="url(#cblur)" stroke="#d8c0cc" stroke-width="0.8" stroke-linejoin="round">
<path d="M452,126.84 L454.88,126.84 L458.19,131.41 L452,137.05Z" fill="url(#cg23)"/>
<path d="M455.71,126.46 L467.27,126.46 L464.47,133.03 L463.34,133.83 L458.9,130.86Z" fill="url(#cg24)"/>
<path d="M468.73,127.22 L474,127.22 L476.24,133.79 L473.46,136.58 L466.02,133.58Z" fill="url(#cg25)"/>
<path d="M475.65,126.86 L483.95,126.86 L484.81,130.65 L482.4,134.11 L477.79,133.14Z" fill="url(#cg25)"/>
<path d="M485.5,126.38 L496.51,126.38 L496.51,129.83 L494.03,131.43 L486.42,130.41Z" fill="url(#cg24)"/>
<path d="M452.5,139.34 L452.5,137.08 L458.26,131.84 L462.54,134.71 L461.74,136.99 L458.78,139.22Z" fill="url(#cg25)"/>
<path d="M463.57,137.65 L464.4,135.31 L465.52,134.51 L473.14,137.58 L473.07,139.95 L468.69,143.64Z" fill="url(#cg26)"/>
<path d="M474.33,140 L474.4,137.6 L477.29,134.7 L482.29,135.75 L483.67,139.21 L479.02,144.11Z" fill="url(#cg26)"/>
<path d="M485.25,138.45 L483.97,135.24 L486.4,131.74 L493.63,132.7 L491.77,137.7 L488.09,139.76Z" fill="url(#cg26)"/>
<path d="M497.48,131.84 L497.48,141.93 L493.33,138.26 L495.17,133.33Z" fill="url(#cg24)"/>
<path d="M452.32,150.07 L452.32,140.81 L458.9,140.7 L460.83,149.35Z" fill="url(#cg25)"/>
<path d="M461.78,148.73 L460.02,140.81 L462.86,138.66 L467.65,144.26 L467.44,146.34 L462.46,149.08Z" fill="url(#cg26)"/>
<path d="M469.04,146.7 L469.27,144.41 L473.73,140.66 L478.46,144.78 L478.44,145.82 L471.28,148.25Z" fill="url(#cg25)"/>
<path d="M482.35,150.19 L479.92,145.81 L479.93,144.82 L484.41,140.1 L487.35,141.46 L489.16,148.23Z" fill="url(#cg24)"/>
<path d="M496.89,142.81 L496.89,147.27 L492.13,148.63 L490.53,147.87 L488.72,141.1 L492.53,138.95Z" fill="url(#cg25)"/>
<path d="M452.19,156.42 L452.19,151.07 L461.07,150.33 L461.84,150.73 L462.94,155.55 L458.4,160.23Z" fill="url(#cg24)"/>
<path d="M464.02,155.23 L462.97,150.63 L468.39,147.66 L470.61,149.21 L472.41,153.95 L469.32,157.9Z" fill="url(#cg26)"/>
<path d="M473.23,153.73 L471.37,148.83 L478.73,146.33 L481.34,151.04 L480.19,153.75Z" fill="url(#cg24)"/>
<path d="M482.74,157.01 L481.99,154.32 L483.02,151.92 L489.49,150.06 L491.01,150.78 L490.98,157.58 L486.23,158.57Z" fill="url(#cg24)"/>
<path d="M497.4,149.49 L497.4,159.08 L494.3,159 L492.84,157.59 L492.87,150.79Z" fill="url(#cg26)"/>
<path d="M452.08,170.07 L451.99,170.07 L451.99,157.7 L457.43,161.04 L457.5,161.6Z" fill="url(#cg24)"/>
<path d="M464.89,165.51 L459.59,161.35 L459.53,160.79 L463.53,156.68 L468.43,159.14 L469.53,163.35Z" fill="url(#cg25)"/>
<path d="M471.45,163.1 L470.27,158.59 L473.32,154.68 L479.99,154.7 L480.79,157.61 L476.98,163.62 L473.76,164.41Z" fill="url(#cg26)"/>
<path d="M478.27,164.27 L481.93,158.49 L485.57,160.11 L485.81,163.8 L483.03,167.5Z" fill="url(#cg24)"/>
<path d="M491.66,165.91 L486.57,163.79 L486.31,159.85 L491.57,158.76 L493.2,160.32Z" fill="url(#cg26)"/>
<path d="M462.08,170.92 L453.32,170.92 L458.78,162.38 L464.09,166.55Z" fill="url(#cg25)"/>
<path d="M472.7,171.71 L463.5,171.71 L465.6,167.15 L470.46,164.89 L472.72,166.18Z" fill="url(#cg26)"/>
<path d="M483.83,171.74 L474.17,171.74 L474.18,166.09 L477.39,165.3 L482.34,168.65Z" fill="url(#cg25)"/>
<path d="M492.36,171.38 L484.93,171.38 L483.36,168.15 L486.39,164.12 L491.59,166.28Z" fill="url(#cg23)"/>
<path d="M497.49,160.52 L497.49,171.3 L493.16,171.3 L492.39,166.17 L493.96,160.42Z" fill="url(#cg25)"/>
</g>
<rect x="460.5" y="135" width="28.3" height="28.1" fill="#888" opacity="0.25" filter="url(#f115)"/>
</g>
<rect x="379" y="44" width="6" height="6" fill="none" stroke="#d42020" stroke-width="0.8"/>
<line x1="385.4" y1="47.2" x2="389.4" y2="47.2" stroke="#d42020" stroke-width="1.4"/>
<path d="M388.3,45.3 L392.9,47.2 L388.3,49.1 Z" fill="#d42020"/>
<rect x="446.4" y="44" width="6" height="6" fill="none" stroke="#d42020" stroke-width="0.8"/>
<line x1="452.8" y1="47.2" x2="456.8" y2="47.2" stroke="#d42020" stroke-width="1.4"/>
<path d="M455.7,45.3 L460.3,47.2 L455.7,49.1 Z" fill="#d42020"/>
<rect x="379" y="73.9" width="6" height="6" fill="none" stroke="#d42020" stroke-width="0.8"/>
<line x1="385.4" y1="77.1" x2="389.4" y2="77.1" stroke="#d42020" stroke-width="1.4"/>
<path d="M388.3,75.2 L392.9,77.1 L388.3,79 Z" fill="#d42020"/>
<rect x="446.4" y="73.9" width="6" height="6" fill="none" stroke="#d42020" stroke-width="0.8"/>
<line x1="452.8" y1="77.1" x2="456.8" y2="77.1" stroke="#d42020" stroke-width="1.4"/>
<path d="M455.7,75.2 L460.3,77.1 L455.7,79 Z" fill="#d42020"/>
<rect x="379" y="124.2" width="6" height="6" fill="none" stroke="#d42020" stroke-width="0.8"/>
<line x1="385.4" y1="127.4" x2="389.4" y2="127.4" stroke="#d42020" stroke-width="1.4"/>
<path d="M388.3,125.5 L392.9,127.4 L388.3,129.3 Z" fill="#d42020"/>
<rect x="450.5" y="124.2" width="6" height="6" fill="none" stroke="#d42020" stroke-width="0.8"/>
<line x1="456.9" y1="127.4" x2="460.9" y2="127.4" stroke="#d42020" stroke-width="1.4"/>
<path d="M459.8,125.5 L464.4,127.4 L459.8,129.3 Z" fill="#d42020"/>
<rect x="379" y="156.7" width="6" height="6" fill="none" stroke="#d42020" stroke-width="0.8"/>
<line x1="385.4" y1="159.9" x2="389.4" y2="159.9" stroke="#d42020" stroke-width="1.4"/>
<path d="M388.3,158 L392.9,159.9 L388.3,161.8 Z" fill="#d42020"/>
<rect x="450.5" y="156.7" width="6" height="6" fill="none" stroke="#d42020" stroke-width="0.8"/>
<line x1="456.9" y1="159.9" x2="460.9" y2="159.9" stroke="#d42020" stroke-width="1.4"/>
<path d="M459.8,158 L464.4,159.9 L459.8,161.8 Z" fill="#d42020"/>
<line x1="350.9" y1="89.2" x2="490" y2="89.2" stroke="#111" stroke-width="1.2"/>
<text x="377" y="18.6" font-size="5.94" textLength="18.3" lengthAdjust="spacingAndGlyphs">Vehicle</text>
<text x="449.2" y="19" font-size="5.94" textLength="11.1" lengthAdjust="spacingAndGlyphs">Dox</text>
<text x="377" y="99.6" font-size="5.94" textLength="18.3" lengthAdjust="spacingAndGlyphs">Vehicle</text>
<text x="449.2" y="98.8" font-size="5.94" textLength="11.1" lengthAdjust="spacingAndGlyphs">Dox</text>
<text x="344.7" y="32.6" font-size="6.15" text-anchor="middle" textLength="16.5" lengthAdjust="spacingAndGlyphs">Tet-on</text>
<text x="344.5" y="39.8" font-size="6.15" text-anchor="middle" textLength="21" lengthAdjust="spacingAndGlyphs">shCNTL</text>
<text x="344.7" y="64.6" font-size="6.15" text-anchor="middle" textLength="16.5" lengthAdjust="spacingAndGlyphs">Tet-on</text>
<text x="344.5" y="71.8" font-size="6.15" text-anchor="middle" textLength="17.5" lengthAdjust="spacingAndGlyphs">shGCK</text>
<text x="344.7" y="115.5" font-size="6.15" text-anchor="middle" textLength="16.5" lengthAdjust="spacingAndGlyphs">Tet-on</text>
<text x="344.5" y="122.7" font-size="6.15" text-anchor="middle" textLength="21" lengthAdjust="spacingAndGlyphs">shCNTL</text>
<text x="344.7" y="147.6" font-size="6.15" text-anchor="middle" textLength="16.5" lengthAdjust="spacingAndGlyphs">Tet-on</text>
<text x="344.5" y="154.8" font-size="6.15" text-anchor="middle" textLength="17.5" lengthAdjust="spacingAndGlyphs">shGCK</text>
<text x="487.8" y="51.9" font-size="5.94" textLength="12.4" lengthAdjust="spacingAndGlyphs">GCK</text>
<text x="487.8" y="58.9" font-size="5.94" textLength="21" lengthAdjust="spacingAndGlyphs">Staining</text>
<text x="492" y="132.4" font-size="5.94" textLength="13.6" lengthAdjust="spacingAndGlyphs">IKZF1</text>
<text x="492" y="138.9" font-size="5.94" textLength="21" lengthAdjust="spacingAndGlyphs">Staining</text>
<text x="471.6" y="85.4" font-size="4.88" fill="#d42020" stroke="#d42020" textLength="13.4" lengthAdjust="spacingAndGlyphs">10 μM</text>
<line x1="476.6" y1="87.4" x2="484.6" y2="87.4" stroke="#d42020" stroke-width="0.8"/>
<text x="471.6" y="169.4" font-size="4.88" fill="#d42020" stroke="#d42020" textLength="13.4" lengthAdjust="spacingAndGlyphs">10 μM</text>
<line x1="476.6" y1="171.1" x2="484.6" y2="171.1" stroke="#d42020" stroke-width="0.8"/>
<rect x="62.2" y="174.1" width="66.1" height="20.4" fill="#222"/>
<g filter="url(#mb)">
<use href="#mouse" transform="translate(68.81 174.2) scale(1.07 1)"/>
<use href="#mouse" transform="translate(82.03 174.2) scale(1.07 1)"/>
<use href="#mouse" transform="translate(95.25 174.2) scale(1.07 1)"/>
<use href="#mouse" transform="translate(108.47 174.2) scale(1.07 1)"/>
<use href="#mouse" transform="translate(121.69 174.2) scale(1.07 1)"/>
</g>
<rect x="62.2" y="196.1" width="66.1" height="21.2" fill="#222"/>
<g filter="url(#mb)">
<use href="#mouse" transform="translate(68.81 196.2) scale(1.07 1.04)"/>
<use href="#mouse" transform="translate(82.03 196.2) scale(1.07 1.04)"/>
<use href="#mouse" transform="translate(95.25 196.2) scale(1.07 1.04)"/>
<use href="#mouse" transform="translate(108.47 196.2) scale(1.07 1.04)"/>
<use href="#mouse" transform="translate(121.69 196.2) scale(1.07 1.04)"/>
</g>
<rect x="62.2" y="218.8" width="66.1" height="20.6" fill="#222"/>
<g filter="url(#mb)">
<use href="#mouse" transform="translate(68.81 218.9) scale(1.07 1.01)"/>
<use href="#mouse" transform="translate(82.03 218.9) scale(1.07 1.01)"/>
<use href="#mouse" transform="translate(95.25 218.9) scale(1.07 1.01)"/>
<use href="#mouse" transform="translate(108.47 218.9) scale(1.07 1.01)"/>
<use href="#mouse" transform="translate(121.69 218.9) scale(1.07 1.01)"/>
</g>
<rect x="62.2" y="241.1" width="66.1" height="20.6" fill="#222"/>
<g filter="url(#mb)">
<use href="#mouse" transform="translate(68.81 241.2) scale(1.07 1.01)"/>
<use href="#mouse" transform="translate(82.03 241.2) scale(1.07 1.01)"/>
<use href="#mouse" transform="translate(95.25 241.2) scale(1.07 1.01)"/>
<use href="#mouse" transform="translate(108.47 241.2) scale(1.07 1.01)"/>
<use href="#mouse" transform="translate(121.69 241.2) scale(1.07 1.01)"/>
</g>
<rect x="130.3" y="174.1" width="65.5" height="20.4" fill="#222"/>
<g filter="url(#mb)">
<use href="#mouse" transform="translate(136.85 174.2) scale(1.06 1)"/>
<use href="#mouse" transform="translate(149.95 174.2) scale(1.06 1)"/>
<use href="#mouse" transform="translate(163.05 174.2) scale(1.06 1)"/>
<use href="#mouse" transform="translate(176.15 174.2) scale(1.06 1)"/>
<use href="#mouse" transform="translate(189.25 174.2) scale(1.06 1)"/>
</g>
<rect x="130.3" y="196.1" width="65.5" height="21.2" fill="#222"/>
<g filter="url(#mb)">
<use href="#mouse" transform="translate(136.85 196.2) scale(1.06 1.04)"/>
<use href="#mouse" transform="translate(149.95 196.2) scale(1.06 1.04)"/>
<use href="#mouse" transform="translate(163.05 196.2) scale(1.06 1.04)"/>
<use href="#mouse" transform="translate(176.15 196.2) scale(1.06 1.04)"/>
<use href="#mouse" transform="translate(189.25 196.2) scale(1.06 1.04)"/>
</g>
<rect x="130.3" y="218.8" width="65.5" height="20.6" fill="#222"/>
<g filter="url(#mb)">
<use href="#mouse" transform="translate(136.85 218.9) scale(1.06 1.01)"/>
<use href="#mouse" transform="translate(149.95 218.9) scale(1.06 1.01)"/>
<use href="#mouse" transform="translate(163.05 218.9) scale(1.06 1.01)"/>
<use href="#mouse" transform="translate(176.15 218.9) scale(1.06 1.01)"/>
<use href="#mouse" transform="translate(189.25 218.9) scale(1.06 1.01)"/>
</g>
<rect x="130.3" y="241.1" width="65.5" height="20.6" fill="#222"/>
<g filter="url(#mb)">
<use href="#mouse" transform="translate(136.85 241.2) scale(1.06 1.01)"/>
<use href="#mouse" transform="translate(149.95 241.2) scale(1.06 1.01)"/>
<use href="#mouse" transform="translate(163.05 241.2) scale(1.06 1.01)"/>
<use href="#mouse" transform="translate(176.15 241.2) scale(1.06 1.01)"/>
<use href="#mouse" transform="translate(189.25 241.2) scale(1.06 1.01)"/>
</g>
<rect x="197.9" y="174.1" width="65.5" height="20.4" fill="#222"/>
<g filter="url(#mb)">
<use href="#mouse" transform="translate(204.45 174.2) scale(1.06 1)"/>
<use href="#mouse" transform="translate(217.55 174.2) scale(1.06 1)"/>
<use href="#mouse" transform="translate(230.65 174.2) scale(1.06 1)"/>
<use href="#mouse" transform="translate(243.75 174.2) scale(1.06 1)"/>
<use href="#mouse" transform="translate(256.85 174.2) scale(1.06 1)"/>
</g>
<rect x="197.9" y="196.1" width="65.5" height="21.2" fill="#222"/>
<g filter="url(#mb)">
<use href="#mouse" transform="translate(204.45 196.2) scale(1.06 1.04)"/>
<use href="#mouse" transform="translate(217.55 196.2) scale(1.06 1.04)"/>
<use href="#mouse" transform="translate(230.65 196.2) scale(1.06 1.04)"/>
<use href="#mouse" transform="translate(243.75 196.2) scale(1.06 1.04)"/>
<use href="#mouse" transform="translate(256.85 196.2) scale(1.06 1.04)"/>
</g>
<rect x="197.9" y="218.8" width="65.5" height="20.6" fill="#222"/>
<g filter="url(#mb)">
<use href="#mouse" transform="translate(204.45 218.9) scale(1.06 1.01)"/>
<use href="#mouse" transform="translate(217.55 218.9) scale(1.06 1.01)"/>
<use href="#mouse" transform="translate(230.65 218.9) scale(1.06 1.01)"/>
<use href="#mouse" transform="translate(243.75 218.9) scale(1.06 1.01)"/>
<use href="#mouse" transform="translate(256.85 218.9) scale(1.06 1.01)"/>
</g>
<rect x="197.9" y="241.1" width="65.5" height="20.6" fill="#222"/>
<g filter="url(#mb)">
<use href="#mouse" transform="translate(204.45 241.2) scale(1.06 1.01)"/>
<use href="#mouse" transform="translate(217.55 241.2) scale(1.06 1.01)"/>
<use href="#mouse" transform="translate(230.65 241.2) scale(1.06 1.01)"/>
<use href="#mouse" transform="translate(243.75 241.2) scale(1.06 1.01)"/>
<use href="#mouse" transform="translate(256.85 241.2) scale(1.06 1.01)"/>
</g>
<g filter="url(#bb)">
<ellipse cx="67" cy="188.2" rx="4.1" ry="4.26" fill="url(#bl330)"/>
<ellipse cx="84.2" cy="188.5" rx="3.51" ry="3.51" fill="url(#bl325)"/>
<ellipse cx="95.3" cy="188" rx="2.66" ry="2.66" fill="url(#bl50)"/>
<ellipse cx="107.8" cy="187.6" rx="3.19" ry="3.19" fill="url(#bl320)"/>
<ellipse cx="134.5" cy="189.3" rx="4.04" ry="4.04" fill="url(#bl345)"/>
<ellipse cx="152.5" cy="189.3" rx="4.57" ry="4.57" fill="url(#bl360)"/>
<ellipse cx="159.7" cy="187.6" rx="1.91" ry="1.49" fill="url(#bl200)"/>
<ellipse cx="163.3" cy="188.7" rx="2.98" ry="2.98" fill="url(#bl345)"/>
<ellipse cx="173.5" cy="189.7" rx="3.62" ry="3.62" fill="url(#bl355)"/>
<ellipse cx="190.5" cy="189.3" rx="3.09" ry="3.4" fill="url(#bl340)"/>
<ellipse cx="205" cy="186.5" rx="5.32" ry="6.38" fill="url(#bl200)"/>
<ellipse cx="203.6" cy="188.5" rx="4.89" ry="4.89" fill="url(#bl366)"/>
<ellipse cx="220.5" cy="187.8" rx="5.32" ry="5.32" fill="url(#bl200)"/>
<ellipse cx="220" cy="188.5" rx="5.11" ry="4.89" fill="url(#bl364)"/>
<ellipse cx="231.5" cy="186" rx="4.89" ry="5.96" fill="url(#bl200)"/>
<ellipse cx="227.5" cy="187" rx="1.28" ry="2.34" fill="url(#bl150)"/>
<ellipse cx="231.6" cy="187.5" rx="3.51" ry="3.51" fill="url(#bl355)"/>
<ellipse cx="242" cy="188.3" rx="4.89" ry="5.32" fill="url(#bl355)"/>
<ellipse cx="258.5" cy="188.3" rx="3.4" ry="4.68" fill="url(#bl350)"/>
<ellipse cx="69.2" cy="210.4" rx="2.66" ry="2.66" fill="url(#bl150)"/>
<ellipse cx="82.3" cy="210" rx="3.4" ry="3.19" fill="url(#bl50)"/>
<ellipse cx="99.3" cy="210" rx="1.28" ry="1.28" fill="url(#bl200)"/>
<ellipse cx="105.8" cy="209.4" rx="3.62" ry="3.4" fill="url(#bl335)"/>
<ellipse cx="119.5" cy="209.1" rx="2.45" ry="2.13" fill="url(#bl150)"/>
<ellipse cx="134.9" cy="210.7" rx="3.19" ry="2.98" fill="url(#bl150)"/>
<ellipse cx="148.6" cy="210.4" rx="4.04" ry="3.19" fill="url(#bl330)"/>
<ellipse cx="163.5" cy="210.3" rx="4.36" ry="3.62" fill="url(#bl360)"/>
<ellipse cx="171.6" cy="210.4" rx="4.47" ry="3.62" fill="url(#bl360)"/>
<ellipse cx="188.5" cy="210" rx="3.19" ry="3.19" fill="url(#bl350)"/>
<ellipse cx="204.6" cy="208.5" rx="5.53" ry="7.02" fill="url(#bl200)"/>
<ellipse cx="204.2" cy="209.9" rx="5.11" ry="5.74" fill="url(#bl364)"/>
<ellipse cx="216.9" cy="209" rx="5.64" ry="6.6" fill="url(#bl200)"/>
<ellipse cx="216.9" cy="210.1" rx="5.32" ry="5.32" fill="url(#bl368)"/>
<ellipse cx="231" cy="208.2" rx="5.32" ry="7.02" fill="url(#bl200)"/>
<ellipse cx="232" cy="209.1" rx="4.47" ry="5.11" fill="url(#bl362)"/>
<ellipse cx="240.5" cy="207" rx="5.74" ry="8.83" fill="url(#bl200)"/>
<ellipse cx="239.9" cy="209.5" rx="5.32" ry="5.53" fill="url(#bl366)"/>
<ellipse cx="256.2" cy="208.6" rx="5.11" ry="5.53" fill="url(#bl355)"/>
<ellipse cx="66.6" cy="231.1" rx="3.4" ry="3.4" fill="url(#bl330)"/>
<ellipse cx="79" cy="229.5" rx="2.66" ry="3.4" fill="url(#bl50)"/>
<ellipse cx="92.7" cy="231.7" rx="3.51" ry="3.19" fill="url(#bl330)"/>
<ellipse cx="107.8" cy="229.1" rx="2.13" ry="2.13" fill="url(#bl200)"/>
<ellipse cx="120.8" cy="231.1" rx="2.45" ry="2.45" fill="url(#bl100)"/>
<ellipse cx="142" cy="228.2" rx="2.98" ry="4.26" fill="url(#bl200)"/>
<ellipse cx="135.5" cy="231.1" rx="3.72" ry="3.72" fill="url(#bl355)"/>
<ellipse cx="148.4" cy="229.6" rx="3.83" ry="4.68" fill="url(#bl360)"/>
<ellipse cx="155.5" cy="230.5" rx="1.6" ry="2.66" fill="url(#bl200)"/>
<ellipse cx="160.4" cy="231.1" rx="3.4" ry="3.4" fill="url(#bl355)"/>
<ellipse cx="177.4" cy="230.4" rx="2.13" ry="2.45" fill="url(#bl50)"/>
<ellipse cx="189.4" cy="231.1" rx="1.91" ry="1.7" fill="url(#bl200)"/>
<ellipse cx="208.8" cy="229.6" rx="3.19" ry="3.83" fill="url(#bl100)"/>
<ellipse cx="202.9" cy="231.7" rx="4.04" ry="4.26" fill="url(#bl350)"/>
<ellipse cx="221.2" cy="229.8" rx="2.66" ry="3.72" fill="url(#bl150)"/>
<ellipse cx="215.3" cy="230.4" rx="4.47" ry="4.89" fill="url(#bl355)"/>
<ellipse cx="228.4" cy="232.4" rx="4.26" ry="4.26" fill="url(#bl355)"/>
<ellipse cx="245.4" cy="232.1" rx="3.4" ry="4.04" fill="url(#bl350)"/>
<ellipse cx="251.9" cy="231.1" rx="1.91" ry="2.55" fill="url(#bl150)"/>
<ellipse cx="257.8" cy="232.4" rx="1.91" ry="1.91" fill="url(#bl100)"/>
<ellipse cx="83.6" cy="255" rx="3.62" ry="2.77" fill="url(#bl330)"/>
<ellipse cx="97.3" cy="254.4" rx="3.19" ry="3.4" fill="url(#bl335)"/>
<ellipse cx="102.8" cy="254.1" rx="1.28" ry="1.91" fill="url(#bl200)"/>
<ellipse cx="120.8" cy="253.3" rx="1.28" ry="1.28" fill="url(#bl200)"/>
<ellipse cx="152.3" cy="256.7" rx="2.77" ry="1.91" fill="url(#bl200)"/>
<ellipse cx="164" cy="254.6" rx="3.09" ry="3.4" fill="url(#bl330)"/>
<ellipse cx="178" cy="255.4" rx="1.49" ry="1.49" fill="url(#bl200)"/>
<ellipse cx="188.1" cy="256.3" rx="1.28" ry="1.28" fill="url(#bl200)"/>
<ellipse cx="208.1" cy="253.1" rx="2.13" ry="2.55" fill="url(#bl150)"/>
<ellipse cx="219.9" cy="255.4" rx="3.4" ry="2.98" fill="url(#bl330)"/>
<ellipse cx="226" cy="254.1" rx="1.06" ry="2.13" fill="url(#bl200)"/>
<ellipse cx="232" cy="253.1" rx="3.19" ry="3.83" fill="url(#bl345)"/>
<ellipse cx="238.8" cy="252.8" rx="1.06" ry="2.13" fill="url(#bl200)"/>
<ellipse cx="245.4" cy="254.1" rx="2.45" ry="2.45" fill="url(#bl100)"/>
<ellipse cx="255.2" cy="255" rx="1.91" ry="1.91" fill="url(#bl150)"/>
</g>
<text x="88.8" y="171.5" font-size="6.25" textLength="17.4" lengthAdjust="spacingAndGlyphs">1 week</text>
<text x="151.6" y="171.5" font-size="6.25" textLength="21" lengthAdjust="spacingAndGlyphs">2 weeks</text>
<text x="218" y="171.3" font-size="6.25" textLength="21.6" lengthAdjust="spacingAndGlyphs">3 weeks</text>
<text x="40" y="182.4" font-size="6.36" text-anchor="middle" textLength="38.9" lengthAdjust="spacingAndGlyphs">Tet-on-shCNTL</text>
<text x="40.1" y="189.4" font-size="6.36" text-anchor="middle" textLength="22.2" lengthAdjust="spacingAndGlyphs">+Vehicle</text>
<text x="40" y="204.75" font-size="6.36" text-anchor="middle" textLength="38.9" lengthAdjust="spacingAndGlyphs">Tet-on-shCNTL</text>
<text x="40.1" y="211.75" font-size="6.36" text-anchor="middle" textLength="14.9" lengthAdjust="spacingAndGlyphs">+Dox</text>
<text x="40" y="227.1" font-size="6.36" text-anchor="middle" textLength="36.9" lengthAdjust="spacingAndGlyphs">Tet-on-shGCK</text>
<text x="40.1" y="234.1" font-size="6.36" text-anchor="middle" textLength="22.2" lengthAdjust="spacingAndGlyphs">+Vehicle</text>
<text x="40" y="249.45" font-size="6.36" text-anchor="middle" textLength="36.9" lengthAdjust="spacingAndGlyphs">Tet-on-shGCK</text>
<text x="40.1" y="256.45" font-size="6.36" text-anchor="middle" textLength="14.9" lengthAdjust="spacingAndGlyphs">+Dox</text>
<rect x="273.7" y="177.6" width="1.9" height="71" fill="url(#cbar)"/>
<line x1="273.3" y1="175.4" x2="282.3" y2="175.4" stroke="#999" stroke-width="0.5"/>
<line x1="276.4" y1="182" x2="277.4" y2="182" stroke="#aaa" stroke-width="0.4"/>
<rect x="277.6" y="181.5" width="4" height="1" fill="#c8c8c8"/>
<line x1="276.4" y1="205.5" x2="277.4" y2="205.5" stroke="#aaa" stroke-width="0.4"/>
<rect x="277.6" y="205" width="4" height="1" fill="#c8c8c8"/>
<line x1="276.4" y1="229.4" x2="277.4" y2="229.4" stroke="#aaa" stroke-width="0.4"/>
<rect x="277.6" y="228.9" width="4" height="1" fill="#c8c8c8"/>
<rect x="273.2" y="251.2" width="4.8" height="1" fill="#c8c8c8"/>
<rect x="273.2" y="253.7" width="9.6" height="5.9" fill="none" stroke="#bbb" stroke-width="0.5"/>
<rect x="274.2" y="254.8" width="7.4" height="1" fill="#d0d0d0"/>
<rect x="274.2" y="257" width="7.4" height="1" fill="#d0d0d0"/>
<line x1="352.75" y1="188.4" x2="352.75" y2="258.1" stroke="#111" stroke-width="1.25"/>
<line x1="349.4" y1="257.5" x2="494.6" y2="257.5" stroke="#111" stroke-width="1.3"/>
<line x1="349.4" y1="257.5" x2="352.75" y2="257.5" stroke="#111" stroke-width="1"/>
<text x="345.9" y="259.5" font-size="6.15" text-anchor="end">0</text>
<line x1="349.4" y1="244.28" x2="352.75" y2="244.28" stroke="#111" stroke-width="1"/>
<text x="326" y="246.28" font-size="5.94" textLength="20.4" lengthAdjust="spacingAndGlyphs">1.0×10</text>
<text x="346.5" y="243.28" font-size="3.6">7</text>
<line x1="349.4" y1="231.06" x2="352.75" y2="231.06" stroke="#111" stroke-width="1"/>
<text x="326" y="233.06" font-size="5.94" textLength="20.4" lengthAdjust="spacingAndGlyphs">2.0×10</text>
<text x="346.5" y="230.06" font-size="3.6">7</text>
<line x1="349.4" y1="217.84" x2="352.75" y2="217.84" stroke="#111" stroke-width="1"/>
<text x="326" y="219.84" font-size="5.94" textLength="20.4" lengthAdjust="spacingAndGlyphs">3.0×10</text>
<text x="346.5" y="216.84" font-size="3.6">7</text>
<line x1="349.4" y1="204.62" x2="352.75" y2="204.62" stroke="#111" stroke-width="1"/>
<text x="326" y="206.62" font-size="5.94" textLength="20.4" lengthAdjust="spacingAndGlyphs">4.0×10</text>
<text x="346.5" y="203.62" font-size="3.6">7</text>
<line x1="349.4" y1="191.4" x2="352.75" y2="191.4" stroke="#111" stroke-width="1"/>
<text x="326" y="193.4" font-size="5.94" textLength="20.4" lengthAdjust="spacingAndGlyphs">5.0×10</text>
<text x="346.5" y="190.4" font-size="3.6">7</text>
<text transform="translate(321.2 235.2) rotate(-90)" font-size="7.42" textLength="24.4" lengthAdjust="spacingAndGlyphs">Total fluc</text>
<line x1="376.5" y1="257.5" x2="376.5" y2="260.3" stroke="#111" stroke-width="1"/>
<line x1="361.4" y1="241.4" x2="361.4" y2="246" stroke="#444" stroke-width="0.9"/>
<line x1="359.6" y1="241.8" x2="363.2" y2="241.8" stroke="#222" stroke-width="1"/>
<rect x="357.9" y="246" width="7" height="11.5" fill="#2a4a8c"/>
<line x1="371.65" y1="244.2" x2="371.65" y2="248.5" stroke="#444" stroke-width="0.9"/>
<line x1="369.85" y1="244.6" x2="373.45" y2="244.6" stroke="#222" stroke-width="1"/>
<rect x="368.15" y="248.5" width="7" height="9" fill="#c0062e"/>
<line x1="381.9" y1="245.7" x2="381.9" y2="248.5" stroke="#444" stroke-width="0.9"/>
<line x1="380.1" y1="246.1" x2="383.7" y2="246.1" stroke="#222" stroke-width="1"/>
<rect x="378.4" y="248.5" width="7" height="9" fill="#6cb43c"/>
<line x1="392.15" y1="247.1" x2="392.15" y2="251.4" stroke="#444" stroke-width="0.9"/>
<line x1="390.35" y1="247.5" x2="393.95" y2="247.5" stroke="#222" stroke-width="1"/>
<rect x="388.65" y="251.4" width="7" height="6.1" fill="#4a2878"/>
<line x1="424.45" y1="257.5" x2="424.45" y2="260.3" stroke="#111" stroke-width="1"/>
<line x1="409.35" y1="229" x2="409.35" y2="234.8" stroke="#444" stroke-width="0.9"/>
<line x1="407.55" y1="229.4" x2="411.15" y2="229.4" stroke="#222" stroke-width="1"/>
<rect x="405.85" y="234.8" width="7" height="22.7" fill="#2a4a8c"/>
<line x1="419.6" y1="230.5" x2="419.6" y2="235.5" stroke="#444" stroke-width="0.9"/>
<line x1="417.8" y1="230.9" x2="421.4" y2="230.9" stroke="#222" stroke-width="1"/>
<rect x="416.1" y="235.5" width="7" height="22" fill="#c0062e"/>
<line x1="429.85" y1="237.4" x2="429.85" y2="242.4" stroke="#444" stroke-width="0.9"/>
<line x1="428.05" y1="237.8" x2="431.65" y2="237.8" stroke="#222" stroke-width="1"/>
<rect x="426.35" y="242.4" width="7" height="15.1" fill="#6cb43c"/>
<line x1="440.1" y1="252.7" x2="440.1" y2="254.9" stroke="#444" stroke-width="0.9"/>
<line x1="438.3" y1="253.1" x2="441.9" y2="253.1" stroke="#222" stroke-width="1"/>
<rect x="436.6" y="254.9" width="7" height="2.6" fill="#4a2878"/>
<line x1="472.4" y1="257.5" x2="472.4" y2="260.3" stroke="#111" stroke-width="1"/>
<line x1="457.3" y1="204.8" x2="457.3" y2="213" stroke="#444" stroke-width="0.9"/>
<line x1="455.5" y1="205.2" x2="459.1" y2="205.2" stroke="#222" stroke-width="1"/>
<rect x="453.8" y="213" width="7" height="44.5" fill="#2a4a8c"/>
<line x1="467.55" y1="195.5" x2="467.55" y2="200.1" stroke="#444" stroke-width="0.9"/>
<line x1="465.75" y1="195.9" x2="469.35" y2="195.9" stroke="#222" stroke-width="1"/>
<rect x="464.05" y="200.1" width="7" height="57.4" fill="#c0062e"/>
<line x1="477.8" y1="204.8" x2="477.8" y2="214.2" stroke="#444" stroke-width="0.9"/>
<line x1="476" y1="205.2" x2="479.6" y2="205.2" stroke="#222" stroke-width="1"/>
<rect x="474.3" y="214.2" width="7" height="43.3" fill="#6cb43c"/>
<line x1="488.05" y1="240.4" x2="488.05" y2="245.5" stroke="#444" stroke-width="0.9"/>
<line x1="486.25" y1="240.8" x2="489.85" y2="240.8" stroke="#222" stroke-width="1"/>
<rect x="484.55" y="245.5" width="7" height="12" fill="#4a2878"/>
<path d="M436.2,245.55L436.2,248.85M434.77,246.38L437.63,248.02M437.63,246.38L434.77,248.02" stroke="#111" stroke-width="1.15" stroke-linecap="round"/>
<path d="M442,245.55L442,248.85M440.57,246.38L443.43,248.02M443.43,246.38L440.57,248.02" stroke="#111" stroke-width="1.15" stroke-linecap="round"/>
<path d="M484.2,233.75L484.2,237.05M482.77,234.58L485.63,236.22M485.63,234.58L482.77,236.22" stroke="#111" stroke-width="1.15" stroke-linecap="round"/>
<path d="M489.3,233.75L489.3,237.05M487.87,234.58L490.73,236.22M490.73,234.58L487.87,236.22" stroke="#111" stroke-width="1.15" stroke-linecap="round"/>
<text x="367.8" y="268.7" font-size="6.15" textLength="18.3" lengthAdjust="spacingAndGlyphs">1 week</text>
<text x="414" y="268.7" font-size="6.15" textLength="20.8" lengthAdjust="spacingAndGlyphs">2 weeks</text>
<text x="462.1" y="268.5" font-size="6.15" textLength="21.3" lengthAdjust="spacingAndGlyphs">3 weeks</text>
<rect x="361.8" y="177.4" width="4.9" height="4.7" fill="#2a4a8c"/>
<text x="370.2" y="181.6" font-size="6.15" textLength="60.8" lengthAdjust="spacingAndGlyphs">Tet-on-shCNTL+Vehicle</text>
<rect x="361.8" y="185.48" width="4.9" height="4.7" fill="#c0062e"/>
<text x="370.2" y="189.68" font-size="6.15" textLength="53" lengthAdjust="spacingAndGlyphs">Tet-on-shCNTL+Dox</text>
<rect x="361.8" y="193.56" width="4.9" height="4.7" fill="#6cb43c"/>
<text x="370.2" y="197.76" font-size="6.15" textLength="58.2" lengthAdjust="spacingAndGlyphs">Tet-on-shGCK+Vehicle</text>
<rect x="361.8" y="201.64" width="4.9" height="4.7" fill="#4a2878"/>
<text x="370.2" y="205.84" font-size="6.15" textLength="50.5" lengthAdjust="spacingAndGlyphs">Tet-on-shGCK+Dox</text>
<rect x="0" y="0" width="520" height="1.1" fill="#000"/>
<rect x="0" y="0" width="1.3" height="278" fill="#000"/>
<rect x="518.7" y="0" width="1.3" height="278" fill="#000"/>
<rect x="0" y="276.7" width="520" height="1.3" fill="#000"/>
</svg></body></html>
